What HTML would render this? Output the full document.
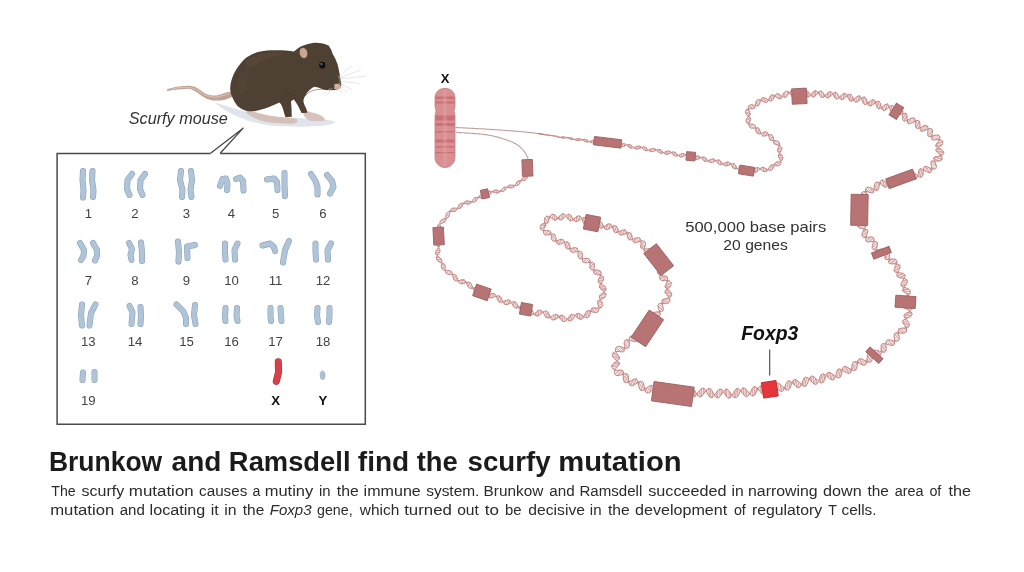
<!DOCTYPE html>
<html><head><meta charset="utf-8"><style>
html,body{margin:0;padding:0;background:#fff;overflow:hidden;}
svg{display:block;font-family:"Liberation Sans",sans-serif;will-change:transform;}
</style></head><body>
<svg width="1024" height="572" viewBox="0 0 1024 572">
<rect width="1024" height="572" fill="#fff"/>
<g id="mouse">
<path d="M214,102 C226,106 250,115 285,117.5 C310,118.5 330,119 335.5,122 C333,126.5 305,127.5 275,126 C250,124 226,113 214,102 Z" fill="#dfe4ec"/>
<path d="M232.0,91.5 231.1,91.7 230.2,91.8 229.2,91.9 228.3,92.1 227.4,92.3 226.4,92.5 225.4,92.8 224.3,93.1 223.2,93.5 222.1,93.9 221.0,94.2 220.0,94.5 219.1,94.8 218.2,95.0 217.4,95.2 216.5,95.4 215.7,95.6 214.7,95.6 213.6,95.6 212.5,95.4 211.3,95.2 210.1,95.0 209.0,94.8 208.0,94.5 207.2,94.3 206.5,94.0 205.9,93.7 205.2,93.4 204.5,93.0 203.7,92.5 202.7,91.8 201.6,91.0 200.4,90.2 199.1,89.3 197.9,88.5 196.7,87.8 195.6,87.3 194.5,86.8 193.4,86.5 192.2,86.2 191.0,86.0 189.7,85.8 188.2,85.7 186.5,85.8 184.7,85.9 182.9,86.1 181.3,86.3 180.0,86.4 179.0,86.5 178.3,86.6 177.7,86.6 177.1,86.7 176.5,86.8 175.6,87.0 174.5,87.2 173.3,87.5 172.0,87.9 170.7,88.2 169.3,88.6 168.0,88.9 Q165.8,90.2 167.5,91.0 168.9,90.8 170.3,90.5 171.7,90.3 173.0,90.1 174.3,89.9 175.6,89.7 176.8,89.6 177.8,89.5 178.8,89.4 179.8,89.3 180.9,89.3 182.0,89.2 183.2,89.1 184.5,89.0 185.9,88.9 187.2,88.8 188.5,88.8 189.7,88.9 190.8,89.2 191.8,89.5 192.8,90.0 193.7,90.5 194.6,91.0 195.5,91.5 196.3,92.0 197.1,92.5 197.9,93.0 198.6,93.5 199.3,94.0 200.0,94.5 200.6,95.0 201.2,95.4 201.8,95.8 202.4,96.3 203.0,96.7 203.7,97.1 204.5,97.5 205.3,98.0 206.2,98.4 207.1,98.9 208.1,99.3 209.0,99.6 209.9,99.9 210.8,100.1 211.7,100.3 212.7,100.4 213.7,100.5 214.7,100.6 215.9,100.6 217.1,100.6 218.4,100.6 219.7,100.5 220.9,100.4 222.0,100.3 222.9,100.2 223.6,100.1 224.3,99.9 225.0,99.8 225.6,99.5 226.4,99.3 227.3,99.0 228.2,98.6 229.1,98.2 230.1,97.8 231.1,97.4 232.0,97.0Z" fill="#c3a294"/><path d="M229.0,93.5 227.8,93.9 226.7,94.3 225.5,94.7 224.4,95.0 223.2,95.4 222.0,95.7 220.8,96.0 219.6,96.3 218.3,96.6 217.1,96.8 215.9,96.9 214.7,97.0 213.5,97.0 212.3,96.9 211.2,96.7 210.0,96.5 209.0,96.2 208.0,96.0 207.2,95.8 206.5,95.6 205.8,95.4 205.2,95.1 204.5,94.7 203.7,94.3 202.7,93.7 201.7,93.0 200.5,92.2 199.4,91.4 198.2,90.6 197.0,90.0 195.8,89.5 194.7,89.0 193.5,88.5 192.3,88.2 191.1,87.8 189.7,87.6 188.2,87.4 186.6,87.4 184.9,87.4 183.2,87.4 181.5,87.5 180.0,87.6 178.6,87.7 177.2,87.9 175.9,88.1 174.6,88.4 173.3,88.6 172.0,88.8" fill="none" stroke="#d6bdb3" stroke-width="1.2" stroke-linecap="round"/>
<path d="M246,109 C256,113 268,116 280,117 L296,118.5 C299,120.5 297.5,123.5 291,123.8 L272,122.8 C260,121.5 250,117 246.5,112.5 Z" fill="#d5c0b9"/>
<path d="M303,110 L316,113.5 C322,115.5 326,118 324.5,121 L311,121 C305.5,119 302.5,115 303,110 Z" fill="#d8c3bc"/>
<path d="M230.2,88.4 C230.5,79 235,69 243.6,60 C250,54 258,51.5 267,50.6 C276,50 288,50.5 294,51.4 C298,48 302,45.5 305,45.1 C309,43.5 312,42.8 314.5,42.7 C319,42.5 323,43.3 326,44.5 L328.6,45.5 C331,49 332,51 332.5,53.7 C335,57 336.5,61.6 337.5,64 C338.9,69.5 340.4,77.4 341.2,83.7 C341.5,85.5 341,86.5 340.4,87 C338,89.5 336,90 333.4,90 C331,90.5 329,90 327,90 C324,89.5 322,89 320.8,88.4 C318,87.5 316,87 314.5,86.8 C312,88 310.5,89 309.7,90 C307.5,92 306,94 305,96.3 C304,98 303.5,100 303.4,101 C303.8,104 305,106 306,108 L307.5,112.8 L301.5,113 C300,109.5 298.5,106.5 297,104 C295.8,102 294.8,100.5 294,99.4 C292.5,100.2 291.5,100.8 291,101.5 L291.5,108 L291.8,116.8 L285.5,117.2 C284.5,114 283.8,112 283.3,110 C282.5,107 281.5,105 280.5,103.5 C280,103.5 279.8,103 279.8,102.5 C277,103.5 274,104.8 272,105.7 C269,107 266.5,108 264,108.8 C261,109.8 258,110.6 254.6,111.2 C251,111.5 248,111.2 245.2,110.4 C241.5,109 239,107.5 237.3,105.7 C235,103 233.5,100 232.6,97.8 C231,94.5 230.3,91.5 230.2,88.4 Z" fill="#4f4034"/>
<path d="M246,60 C255,53 270,51.5 286,53 C278,57 264,58 254,66 C249,70 245,68 246,60 Z" fill="#58483b" opacity="0.7"/>
<path d="M236,80 C240,72 246,68 250,70 C248,78 246,88 244,96 C240,95 236,90 236,80 Z" fill="#55453a" opacity="0.5"/>
<path d="M305,96 C310,90 318,88 330,90" fill="none" stroke="#3e3128" stroke-width="0.8" opacity="0.6"/>
<path d="M280,102 C283,95 287,92 295,96" fill="none" stroke="#3e3128" stroke-width="0.8" opacity="0.6"/>
<ellipse cx="303.5" cy="53" rx="4.3" ry="5.6" transform="rotate(-15 303.5 53)" fill="#c9a592" stroke="#4d3e32" stroke-width="0.8"/>
<ellipse cx="322.3" cy="65.2" rx="3.1" ry="3.4" fill="#111"/>
<circle cx="321.4" cy="64" r="0.75" fill="#ccc"/>
<path d="M334.5,84 C337.5,83 340.8,84.5 341.3,87 C340,89.8 336.5,90.3 334,88.8 Z" fill="#d4a497"/>
<g stroke="#d5d5d5" stroke-width="0.55" fill="none">
<path d="M338,77 L352,65.5"/><path d="M338.5,78 L361,70"/><path d="M339,79 L366,76"/>
<path d="M339,81 L359.5,83.5"/><path d="M338,83 L352,89.7"/><path d="M337,84 L347,92"/>
<path d="M336,85 L342,93"/><path d="M332,88 L326,96"/><path d="M330,88.5 L322,95"/>
</g>
</g>

<text x="128.8" y="124.3" font-size="16" font-style="italic" fill="#333" textLength="99" lengthAdjust="spacingAndGlyphs">Scurfy mouse</text>
<path d="M210.6,153.3 L243.4,127.9 L220.2,153.3" fill="#fff" stroke="#4a4a4a" stroke-width="1.3" stroke-linejoin="miter"/>
<path d="M210.6,153.4 H57.1 V424.3 H365.3 V153.4 H220.2" fill="none" stroke="#4a4a4a" stroke-width="1.5"/>
<g fill="none" stroke-linecap="round" stroke-linejoin="round"><path d="M83,171 L82.5,180 L83.5,190 L83,197.5" stroke="#8aa1b8" stroke-width="6.0"/><path d="M83,171 L82.5,180 L83.5,190 L83,197.5" stroke="#b0c4d8" stroke-width="4.9"/><path d="M92.5,171 L92,180 L93.5,190 L93,197" stroke="#8aa1b8" stroke-width="6.0"/><path d="M92.5,171 L92,180 L93.5,190 L93,197" stroke="#b0c4d8" stroke-width="4.9"/><path d="M132,174 L127.5,180 L127,189 L129.5,195" stroke="#8aa1b8" stroke-width="6.0"/><path d="M132,174 L127.5,180 L127,189 L129.5,195" stroke="#b0c4d8" stroke-width="4.9"/><path d="M145,174 L140.5,180 L140,189 L142.5,195" stroke="#8aa1b8" stroke-width="6.0"/><path d="M145,174 L140.5,180 L140,189 L142.5,195" stroke="#b0c4d8" stroke-width="4.9"/><path d="M181,171 L180,180 L182.5,190 L182,197" stroke="#8aa1b8" stroke-width="6.0"/><path d="M181,171 L180,180 L182.5,190 L182,197" stroke="#b0c4d8" stroke-width="4.9"/><path d="M191,171 L192,180 L190.5,190 L191.5,197" stroke="#8aa1b8" stroke-width="6.0"/><path d="M191,171 L192,180 L190.5,190 L191.5,197" stroke="#b0c4d8" stroke-width="4.9"/><path d="M220,186 L222.5,179 L226,178.5 L227.5,184 L227,190" stroke="#8aa1b8" stroke-width="6.0"/><path d="M220,186 L222.5,179 L226,178.5 L227.5,184 L227,190" stroke="#b0c4d8" stroke-width="4.9"/><path d="M236,179 L240,177.5 L243,181 L243.5,190.5" stroke="#8aa1b8" stroke-width="6.0"/><path d="M236,179 L240,177.5 L243,181 L243.5,190.5" stroke="#b0c4d8" stroke-width="4.9"/><path d="M267,179.5 L274,178.5 L277,182 L277.5,190" stroke="#8aa1b8" stroke-width="6.0"/><path d="M267,179.5 L274,178.5 L277,182 L277.5,190" stroke="#b0c4d8" stroke-width="4.9"/><path d="M284.5,173 L284.5,185 L285,196" stroke="#8aa1b8" stroke-width="6.0"/><path d="M284.5,173 L284.5,185 L285,196" stroke="#b0c4d8" stroke-width="4.9"/><path d="M311,174 L315.5,181 L317.5,187 L317.5,194.5" stroke="#8aa1b8" stroke-width="6.0"/><path d="M311,174 L315.5,181 L317.5,187 L317.5,194.5" stroke="#b0c4d8" stroke-width="4.9"/><path d="M327,175 L332,181 L333.5,187 L330,193.5" stroke="#8aa1b8" stroke-width="6.0"/><path d="M327,175 L332,181 L333.5,187 L330,193.5" stroke="#b0c4d8" stroke-width="4.9"/><path d="M80,243 L84,250 L83.5,256 L81,260" stroke="#8aa1b8" stroke-width="6.0"/><path d="M80,243 L84,250 L83.5,256 L81,260" stroke="#b0c4d8" stroke-width="4.9"/><path d="M93,243 L97,250 L97,256 L95,260.5" stroke="#8aa1b8" stroke-width="6.0"/><path d="M93,243 L97,250 L97,256 L95,260.5" stroke="#b0c4d8" stroke-width="4.9"/><path d="M129,243 L132,249 L130.5,255 L131.5,260" stroke="#8aa1b8" stroke-width="6.0"/><path d="M129,243 L132,249 L130.5,255 L131.5,260" stroke="#b0c4d8" stroke-width="4.9"/><path d="M141,242.5 L142,252 L142,261" stroke="#8aa1b8" stroke-width="6.0"/><path d="M141,242.5 L142,252 L142,261" stroke="#b0c4d8" stroke-width="4.9"/><path d="M178,241.5 L179,252 L178.5,261.5" stroke="#8aa1b8" stroke-width="6.0"/><path d="M178,241.5 L179,252 L178.5,261.5" stroke="#b0c4d8" stroke-width="4.9"/><path d="M187.5,258 L187,246.5 L195,245" stroke="#8aa1b8" stroke-width="6.0"/><path d="M187.5,258 L187,246.5 L195,245" stroke="#b0c4d8" stroke-width="4.9"/><path d="M225,243.5 L225,252 L225.5,259.5" stroke="#8aa1b8" stroke-width="6.0"/><path d="M225,243.5 L225,252 L225.5,259.5" stroke="#b0c4d8" stroke-width="4.9"/><path d="M237.5,243.5 L234.5,250 L235,259.5" stroke="#8aa1b8" stroke-width="6.0"/><path d="M237.5,243.5 L234.5,250 L235,259.5" stroke="#b0c4d8" stroke-width="4.9"/><path d="M262.5,245.5 L270,243.5 L274,247 L275,251" stroke="#8aa1b8" stroke-width="6.0"/><path d="M262.5,245.5 L270,243.5 L274,247 L275,251" stroke="#b0c4d8" stroke-width="4.9"/><path d="M289,241 L285,250 L283,262.5" stroke="#8aa1b8" stroke-width="6.0"/><path d="M289,241 L285,250 L283,262.5" stroke="#b0c4d8" stroke-width="4.9"/><path d="M315.5,243.5 L315.5,252 L316,259.5" stroke="#8aa1b8" stroke-width="6.0"/><path d="M315.5,243.5 L315.5,252 L316,259.5" stroke="#b0c4d8" stroke-width="4.9"/><path d="M331,243.5 L327.5,250 L328,259.5" stroke="#8aa1b8" stroke-width="6.0"/><path d="M331,243.5 L327.5,250 L328,259.5" stroke="#b0c4d8" stroke-width="4.9"/><path d="M82,304.5 L81,315 L82,325.5" stroke="#8aa1b8" stroke-width="6.0"/><path d="M82,304.5 L81,315 L82,325.5" stroke="#b0c4d8" stroke-width="4.9"/><path d="M95.5,304.5 L91,313 L89.5,325.5" stroke="#8aa1b8" stroke-width="6.0"/><path d="M95.5,304.5 L91,313 L89.5,325.5" stroke="#b0c4d8" stroke-width="4.9"/><path d="M129.5,306 L132.5,312 L131.5,324" stroke="#8aa1b8" stroke-width="6.0"/><path d="M129.5,306 L132.5,312 L131.5,324" stroke="#b0c4d8" stroke-width="4.9"/><path d="M140.5,307 L141,316 L140.5,324" stroke="#8aa1b8" stroke-width="6.0"/><path d="M140.5,307 L141,316 L140.5,324" stroke="#b0c4d8" stroke-width="4.9"/><path d="M176.5,304.5 L183.5,311.5 L186,318 L186,324" stroke="#8aa1b8" stroke-width="6.0"/><path d="M176.5,304.5 L183.5,311.5 L186,318 L186,324" stroke="#b0c4d8" stroke-width="4.9"/><path d="M195,305 L194,315 L195.5,324" stroke="#8aa1b8" stroke-width="6.0"/><path d="M195,305 L194,315 L195.5,324" stroke="#b0c4d8" stroke-width="4.9"/><path d="M225.5,308 L225,316 L225.5,321" stroke="#8aa1b8" stroke-width="6.0"/><path d="M225.5,308 L225,316 L225.5,321" stroke="#b0c4d8" stroke-width="4.9"/><path d="M237,308 L236.5,316 L237.5,321" stroke="#8aa1b8" stroke-width="6.0"/><path d="M237,308 L236.5,316 L237.5,321" stroke="#b0c4d8" stroke-width="4.9"/><path d="M270.5,308 L270.5,316 L271,321" stroke="#8aa1b8" stroke-width="6.0"/><path d="M270.5,308 L270.5,316 L271,321" stroke="#b0c4d8" stroke-width="4.9"/><path d="M280.5,308 L281,316 L281.5,321" stroke="#8aa1b8" stroke-width="6.0"/><path d="M280.5,308 L281,316 L281.5,321" stroke="#b0c4d8" stroke-width="4.9"/><path d="M317.5,308 L317,316 L318,322" stroke="#8aa1b8" stroke-width="6.0"/><path d="M317.5,308 L317,316 L318,322" stroke="#b0c4d8" stroke-width="4.9"/><path d="M329.5,308 L329.5,316 L329,322" stroke="#8aa1b8" stroke-width="6.0"/><path d="M329.5,308 L329.5,316 L329,322" stroke="#b0c4d8" stroke-width="4.9"/><path d="M83,372.5 L82.5,380" stroke="#8aa1b8" stroke-width="6.0"/><path d="M83,372.5 L82.5,380" stroke="#b0c4d8" stroke-width="4.9"/><path d="M94.5,372 L94.5,380" stroke="#8aa1b8" stroke-width="6.0"/><path d="M94.5,372 L94.5,380" stroke="#b0c4d8" stroke-width="4.9"/><path d="M278.3,361.8 L278.6,372 L276.3,381.3" stroke="#b8333a" stroke-width="7.1"/><path d="M278.3,361.8 L278.6,372 L276.3,381.3" stroke="#d8414a" stroke-width="6"/></g><ellipse cx="322.6" cy="375.3" rx="2.4" ry="4.2" fill="#a9bfd4" stroke="#8fa6bd" stroke-width="0.6"/>
<text x="88.3" y="217.5" text-anchor="middle" font-size="13.2" fill="#444">1</text><text x="135" y="217.5" text-anchor="middle" font-size="13.2" fill="#444">2</text><text x="186.5" y="217.5" text-anchor="middle" font-size="13.2" fill="#444">3</text><text x="231.5" y="217.5" text-anchor="middle" font-size="13.2" fill="#444">4</text><text x="275.6" y="217.5" text-anchor="middle" font-size="13.2" fill="#444">5</text><text x="323" y="217.5" text-anchor="middle" font-size="13.2" fill="#444">6</text><text x="88.3" y="284.7" text-anchor="middle" font-size="13.2" fill="#444">7</text><text x="135" y="284.7" text-anchor="middle" font-size="13.2" fill="#444">8</text><text x="186.5" y="284.7" text-anchor="middle" font-size="13.2" fill="#444">9</text><text x="231.5" y="284.7" text-anchor="middle" font-size="13.2" fill="#444">10</text><text x="275.6" y="284.7" text-anchor="middle" font-size="13.2" fill="#444">11</text><text x="323" y="284.7" text-anchor="middle" font-size="13.2" fill="#444">12</text><text x="88.3" y="345.6" text-anchor="middle" font-size="13.2" fill="#444">13</text><text x="135" y="345.6" text-anchor="middle" font-size="13.2" fill="#444">14</text><text x="186.5" y="345.6" text-anchor="middle" font-size="13.2" fill="#444">15</text><text x="231.5" y="345.6" text-anchor="middle" font-size="13.2" fill="#444">16</text><text x="275.6" y="345.6" text-anchor="middle" font-size="13.2" fill="#444">17</text><text x="323" y="345.6" text-anchor="middle" font-size="13.2" fill="#444">18</text><text x="88.3" y="405.0" text-anchor="middle" font-size="13.2" fill="#444">19</text><text x="275.6" y="405.0" text-anchor="middle" font-size="13.2" font-weight="bold" fill="#111">X</text><text x="323" y="405.0" text-anchor="middle" font-size="13.2" font-weight="bold" fill="#111">Y</text>
<text x="445.2" y="83.3" text-anchor="middle" font-size="13" font-weight="bold" fill="#111">X</text>
<g fill="none" stroke-linecap="round" stroke-linejoin="round">
<path d="M456.0,127.5 456.8,127.5 457.6,127.6 458.4,127.6 459.2,127.7 460.0,127.7 460.8,127.8 461.6,127.8 462.4,127.8 463.2,127.9 464.0,127.9 464.8,128.0 465.6,128.0 466.4,128.0 467.2,128.1 468.0,128.1 468.8,128.2 469.6,128.2 470.4,128.3 471.2,128.3 472.0,128.3 472.8,128.4 473.6,128.4 474.4,128.5 475.2,128.5 476.0,128.5 476.8,128.6 477.6,128.6 478.4,128.7 479.2,128.7 480.0,128.8 480.8,128.8 481.6,128.8 482.4,128.9 483.2,128.9 484.0,129.0 484.8,129.0 485.6,129.1 486.4,129.1 487.2,129.2 488.0,129.2 488.8,129.3 489.6,129.3 490.3,129.4 491.1,129.4 491.9,129.5 492.7,129.5 493.5,129.6 494.3,129.6 495.1,129.7 495.9,129.7 496.7,129.8 497.5,129.8 498.3,129.9 499.1,130.0 499.9,130.0 500.7,130.1 501.5,130.1 502.3,130.2 503.1,130.2 503.9,130.3 504.7,130.3 505.5,130.4 506.3,130.5 507.1,130.5 507.9,130.6 508.7,130.6 509.5,130.7 510.3,130.8 511.1,130.8 511.9,130.9 512.7,130.9 513.5,131.0 514.3,131.1 515.1,131.1 515.9,131.2 516.7,131.3 517.5,131.3 518.3,131.4 519.1,131.5 519.9,131.5 520.7,131.6 521.5,131.7 522.3,131.8 523.1,131.8 523.9,131.9 524.6,132.0 525.4,132.1 526.2,132.1 527.0,132.2 527.8,132.3 528.6,132.4 529.4,132.5 530.2,132.6 531.0,132.6 531.8,132.7 532.6,132.8 533.4,132.9 534.2,133.0 535.0,133.1 535.8,133.2 536.6,133.3 537.4,133.5 538.2,133.6 538.9,133.7 539.7,133.8 540.5,133.9 541.3,134.0 542.1,134.2 542.9,134.3 543.7,134.4M528.1,161.3 528.1,160.5 528.1,159.7 528.0,158.9 527.8,158.1 527.6,157.4 527.3,156.6 526.9,155.9 526.6,155.2 526.2,154.5 525.8,153.8 525.4,153.1 524.9,152.4 524.5,151.8 524.0,151.2 523.5,150.5 523.0,149.9 522.4,149.3 521.9,148.7 521.3,148.2 520.8,147.6 520.2,147.1 519.6,146.6 518.9,146.0 518.3,145.6 517.7,145.1 517.0,144.6 516.3,144.2 515.6,143.8 514.9,143.4 514.2,143.0 513.5,142.7 512.8,142.3 512.1,142.0 511.3,141.7 510.6,141.4 509.9,141.1 509.1,140.8 508.4,140.5 507.6,140.2 506.8,140.0 506.1,139.7 505.3,139.4 504.6,139.2 503.8,138.9 503.1,138.7 502.3,138.5 501.5,138.2 500.8,138.0 500.0,137.8 499.2,137.6 498.4,137.4 497.7,137.1 496.9,136.9 496.1,136.7 495.4,136.6 494.6,136.4 493.8,136.2 493.0,136.0 492.2,135.8 491.4,135.7 490.7,135.5 489.9,135.4 489.1,135.2 488.3,135.1 487.5,134.9 486.7,134.8 485.9,134.7 485.1,134.6 484.3,134.5 483.6,134.4 482.8,134.3 482.0,134.2 481.2,134.1 480.4,134.0 479.6,133.9 478.8,133.9 478.0,133.8 477.2,133.7 476.4,133.7 475.6,133.6 474.8,133.6 474.0,133.5 473.2,133.4 472.4,133.4 471.6,133.3 470.8,133.3 470.0,133.2 469.2,133.2 468.4,133.1 467.6,133.1 466.8,133.0 466.0,133.0 465.2,132.9 464.4,132.9 463.6,132.8 462.8,132.8 462.0,132.7 461.2,132.7 460.4,132.6 459.6,132.6 458.8,132.5 458.0,132.5 457.2,132.4 456.4,132.3" stroke="#bf9f9b" stroke-width="1.1"/>
<path d="M562.6,138.0L562.7,136.9M563.4,138.1L563.5,136.9M569.9,137.6L569.7,138.9M571.5,138.0L571.3,139.4M572.2,138.3L572.0,139.6M576.0,140.1L576.1,139.1M577.6,140.5L577.8,138.8M578.4,140.5L578.6,138.7M580.0,140.2L580.2,138.9M583.4,139.4L583.2,140.4M585.0,139.4L584.7,141.3M586.5,139.8L586.3,141.9M587.3,140.3L587.1,142.0M591.0,142.5L591.2,140.9M591.8,142.7L592.1,140.6M593.5,142.7L593.7,140.3M595.1,142.1L595.3,140.5M598.4,140.7L598.3,142.2M600.0,140.5L599.9,143.2M600.8,140.7L600.7,143.5M602.4,141.5L602.3,143.6M603.2,142.1L603.1,143.4M606.2,143.8L606.4,141.7M607.0,143.9L607.3,141.4M608.6,143.7L608.9,141.1M609.4,143.5L609.7,141.2M613.7,142.0L613.4,143.8M615.3,142.2L614.8,144.9M616.1,142.6L615.5,145.3M617.5,143.7L617.1,145.6M618.2,144.4L618.0,145.5M620.3,146.1L620.6,144.5M621.8,146.6L622.3,143.9M622.7,146.6L623.1,143.7M624.4,146.1L624.7,143.9M628.7,144.6L628.3,146.6M629.5,144.6L629.0,147.2M631.0,145.2L630.5,148.0M631.7,145.7L631.3,148.2M635.3,148.7L635.6,146.9M636.8,149.1L637.3,146.2M637.7,149.0L638.2,146.1M639.4,148.5L639.7,146.3M640.3,148.1L640.5,146.7M642.9,147.0L642.6,148.6M644.5,147.0L644.0,149.8M646.0,147.7L645.5,150.6M646.7,148.3L646.3,150.7M650.3,151.3L650.6,149.2M651.0,151.6L651.5,148.9M652.7,151.5L653.2,148.5M654.4,150.9L654.7,148.8M655.3,150.5L655.5,149.3M657.9,149.5L657.6,151.2M659.5,149.5L659.0,152.5M660.3,149.8L659.7,153.0M661.7,150.9L661.3,153.3M662.4,151.6L662.1,153.2M665.2,154.0L665.6,151.7M666.0,154.3L666.5,151.4M667.6,154.2L668.2,151.0M668.5,153.9L669.0,151.1M670.3,153.0L670.5,151.9M672.9,152.0L672.5,154.0M674.5,152.1L673.9,155.3M675.2,152.5L674.6,155.7M676.6,153.6L676.2,156.0M677.3,154.4L677.1,155.9M679.4,156.4L679.7,154.8M680.9,157.0L681.5,153.9M681.7,157.0L682.3,153.7M683.5,156.5L683.9,153.7M685.2,155.6L685.4,154.6M687.8,154.5L687.5,156.7M688.6,154.4L688.2,157.3M690.0,154.8L689.9,158.2M690.9,155.3L690.6,158.4M692.3,156.7L692.0,158.2M694.3,158.8L694.7,157.0M695.8,159.4L696.5,156.2M696.7,159.5L697.4,156.0M698.4,159.0L699.0,156.1M699.3,158.5L699.7,156.5M702.0,157.2L701.8,158.5M703.7,157.0L703.1,160.1M705.2,157.6L704.5,161.2M705.9,158.2L705.3,161.4M707.2,159.8L706.9,161.3M709.2,161.9L709.6,160.0M710.0,162.3L710.5,159.5M711.5,162.6L712.3,158.9M713.3,162.0L713.9,159.1M714.2,161.5L714.6,159.5M716.9,160.2L716.6,161.6M718.6,160.0L717.9,163.2M719.4,160.2L718.6,163.9M720.8,161.3L720.1,164.6M721.5,162.1L720.9,164.6M724.0,165.2L724.5,163.2M724.7,165.6L725.4,162.7M726.3,165.9L727.2,162.1M727.1,165.7L728.1,162.1M729.0,165.0L729.6,162.8M730.0,164.5L730.3,163.5M731.9,163.8L731.4,165.2M733.6,163.8L732.5,167.0M734.4,164.1L733.0,167.8M735.6,165.4L734.4,168.7M736.1,166.3L735.2,168.9M739.0,170.3L740.0,167.4M739.7,170.7L740.9,167.1M741.3,170.7L742.7,167.0M743.3,170.0L744.1,167.8M744.3,169.6L744.6,168.5M746.0,168.6L745.8,170.1M746.8,168.3L746.5,171.0M748.2,168.3L748.1,172.3M748.9,168.6L749.0,172.7M750.5,169.6L750.7,172.6M754.7,172.3L754.4,169.1M755.4,172.3L755.2,168.4M757.0,171.7L756.8,167.6M757.7,171.0L757.6,167.6M759.3,169.5L759.2,168.2M761.6,167.6L761.7,170.3M763.0,167.3L763.5,171.4M763.8,167.5L764.4,171.7M765.5,168.4L766.1,171.4M766.4,169.0L766.9,170.9M769.3,170.3L768.7,168.3M771.1,170.2L769.8,166.4M772.5,169.1L770.9,165.2M773.0,168.2L771.6,164.9M773.9,166.2L773.2,164.9M774.9,163.5L776.4,165.7M775.3,162.9L777.5,165.8M776.4,162.3L779.6,165.2M777.1,162.1L780.3,164.5M779.1,161.7L781.0,162.6M782.0,160.0L779.9,159.4M782.8,158.4L778.8,157.6M782.8,157.5L778.5,156.8M782.0,155.6L778.4,155.4M781.3,154.7L778.6,154.8M778.2,152.1L780.9,151.4M777.8,151.5L781.4,150.4M777.7,150.0L781.9,148.5M777.9,149.1L781.7,147.6M778.7,147.1L780.5,146.3M779.6,143.9L777.5,145.0M779.5,143.0L776.4,144.7M778.4,141.6L774.7,144.0M776.5,140.8L773.7,143.0M775.4,140.7L773.5,142.2M772.2,140.7L773.4,139.2M770.7,140.3L773.0,136.9M770.2,139.8L772.6,136.0M769.4,138.1L771.4,134.8M768.8,136.0L769.6,134.6M767.7,133.0L766.4,135.5M767.1,132.3L765.3,135.8M765.4,131.9L763.5,136.1M764.4,132.1L762.7,135.9M762.3,132.9L761.5,134.7M759.2,133.9L760.2,131.7M757.5,133.6L759.5,129.6M756.9,133.0L759.1,128.8M756.0,131.1L757.9,127.9M755.7,129.9L757.2,127.9M755.5,126.6L754.0,128.1M754.9,125.2L751.7,128.1M753.5,124.5L749.9,127.3M752.5,124.3L749.3,126.7M750.2,124.0L749.0,124.8M747.1,123.0L749.9,121.4M746.5,122.3L750.2,120.3M746.1,120.5L750.5,118.6M746.4,119.4L750.4,118.0M747.6,117.3L749.4,117.0M749.1,115.8L747.7,115.7M749.7,115.2L746.8,114.9M750.2,114.0L745.6,112.8M750.1,113.4L745.4,111.8M749.3,111.5L746.2,110.0M748.9,110.4L747.0,109.4M748.3,108.1L749.3,108.8M748.7,106.1L751.7,108.7M749.4,105.4L752.7,108.7M751.3,104.8L754.2,108.3M752.4,104.8L754.7,107.7M757.7,105.9L755.9,102.4M758.4,105.6L756.2,101.4M759.4,104.2L757.4,99.9M760.1,102.0L759.1,99.7M761.5,98.8L762.3,101.1M762.1,98.1L763.4,101.7M763.6,97.6L765.4,102.4M764.6,97.8L766.2,102.4M766.7,98.9L767.5,101.5M769.7,100.7L769.1,98.5M771.3,100.9L770.2,96.3M772.0,100.6L770.8,95.5M773.3,98.9L772.3,94.9M773.8,97.9L773.2,95.0M775.6,94.7L776.1,96.9M776.9,93.7L778.1,98.3M778.6,94.0L780.0,98.8M779.5,94.5L780.8,98.6M781.6,95.9L782.0,97.2M784.5,97.4L783.5,93.8M785.3,97.4L784.1,92.8M786.6,96.4L785.5,91.4M787.8,94.5L787.4,91.3M788.5,93.4L788.3,91.9M790.2,91.6L790.1,93.7M791.1,91.1L790.8,94.7M792.9,91.2L792.1,96.5M793.7,91.8L792.8,97.0M795.0,93.8L794.4,97.0M795.6,94.9L795.3,96.6M796.9,97.0L797.2,95.0M798.7,98.0L798.9,93.2M799.7,97.9L799.5,92.5M801.5,96.5L800.6,91.9M802.1,95.4L801.3,92.0M803.9,91.9L804.3,93.8M805.6,90.8L806.0,95.6M807.4,91.3L807.5,96.8M808.3,92.0L808.3,96.9M809.9,94.1L809.9,96.0M812.2,96.7L812.3,93.1M813.0,97.0L813.1,92.2M814.6,96.5L814.8,90.9M815.4,95.8L815.6,90.8M817.1,93.8L817.2,91.7M818.8,91.9L818.7,93.7M819.6,91.3L819.4,94.8M821.3,91.1L820.9,96.7M822.0,91.6L821.7,97.3M823.5,93.4L823.3,97.3M824.3,94.5L824.1,96.8M825.7,96.7L825.8,95.0M827.2,97.8L827.6,93.0M828.0,97.9L828.5,92.2M829.7,96.9L830.2,91.7M830.5,96.0L831.0,91.9M833.3,93.1L833.1,94.7M835.0,92.2L834.4,97.0M835.8,92.3L835.1,98.0M837.3,93.6L836.6,98.9M838.6,95.8L838.3,98.4M840.6,99.0L841.0,95.7M841.3,99.5L842.0,94.7M842.9,99.4L843.8,93.4M843.8,98.8L844.6,93.3M845.7,96.9L846.1,94.2M847.6,95.0L847.4,96.4M848.6,94.4L848.0,97.6M850.2,94.2L849.3,99.9M851.0,94.6L849.9,100.7M852.3,96.6L851.4,101.1M852.9,97.8L852.3,100.8M854.0,100.3L854.2,99.2M854.6,101.3L855.2,98.2M856.0,102.2L857.3,96.4M857.8,101.5L859.1,95.8M858.7,100.8L859.9,96.1M860.9,98.9L861.1,97.8M861.9,98.0L861.7,99.0M863.8,97.1L862.6,101.7M864.7,97.2L863.1,102.9M866.0,98.5L864.3,104.3M866.9,101.0L866.0,104.3M867.4,102.4L867.0,103.7M868.3,104.8L869.1,102.0M868.9,105.6L870.3,101.1M870.4,106.0L872.3,99.9M871.4,105.6L873.2,99.7M873.5,104.1L874.6,100.6M874.7,103.1L875.2,101.6M876.8,101.6L876.0,104.2M878.6,101.3L876.8,106.9M879.3,101.8L877.3,107.9M880.4,103.7L878.7,108.9M880.8,105.0L879.6,108.7M882.1,109.0L882.8,106.6M883.3,110.4L885.0,104.8M885.1,110.2L886.9,104.0M886.1,109.6L887.7,104.1M888.3,107.7L888.9,105.6M891.5,105.6L890.3,109.6M892.4,105.5L890.7,110.9M893.8,106.6L891.6,112.8M894.3,107.7L892.3,113.2M895.0,110.5L894.0,112.9M895.4,113.2L896.2,111.5M895.6,114.2L897.5,110.8M896.4,115.2L900.2,109.9M897.2,115.2L901.4,110.0M899.5,114.7L902.7,111.1M901.0,114.3L902.9,112.0M903.7,113.5L902.7,114.7M905.6,113.2L902.6,117.6M906.3,113.5L902.7,119.0M906.9,115.3L903.6,120.7M907.0,116.6L904.4,121.1M907.1,119.6L906.5,120.7M907.3,121.0L907.8,120.1M907.9,123.1L910.4,118.6M908.5,123.6L911.7,118.1M910.4,123.6L913.6,117.8M912.9,122.4L914.8,119.0M914.2,121.7L915.1,120.1M916.7,120.5L915.3,123.0M917.8,120.3L915.4,124.5M919.2,121.1L915.8,127.1M919.6,122.0L916.2,127.9M919.9,124.7L917.6,128.5M920.0,129.0L921.3,127.1M920.7,130.8L924.0,125.8M921.4,131.2L925.2,125.5M923.5,131.0L927.0,125.7M924.8,130.5L927.6,126.3M928.9,128.7L927.9,130.1M931.0,128.5L927.7,133.1M932.2,129.8L927.9,135.5M932.4,130.9L928.3,136.2M932.2,133.8L929.9,136.6M932.0,135.3L931.0,136.4M931.6,138.0L933.9,135.6M931.7,138.9L935.4,135.2M932.6,139.9L938.0,135.1M934.8,139.9L939.6,136.2M936.3,139.7L939.9,137.2M940.8,139.9L938.5,141.1M942.6,141.2L936.8,143.6M942.9,142.2L936.1,144.5M942.1,144.5L935.6,145.9M941.1,145.6L936.0,146.4M936.5,148.9L940.5,149.0M936.0,149.6L941.8,149.9M936.1,151.0L943.5,151.8M936.8,151.7L943.8,152.8M938.9,153.6L942.9,154.5M940.1,154.7L941.8,155.1M941.8,157.0L938.9,156.1M942.2,159.0L936.0,156.7M941.7,159.9L934.9,157.0M939.5,160.9L933.7,157.9M938.0,161.1L933.7,158.6M933.5,160.9L935.1,162.0M931.6,161.0L936.1,165.0M931.1,161.5L936.3,166.3M931.0,163.3L935.7,168.4M931.4,166.1L934.0,169.1M931.7,167.6L932.7,169.0M931.7,170.5L929.9,168.0M931.4,171.6L928.5,167.4M930.0,172.6L926.1,166.4M928.9,172.6L925.1,166.3M926.4,171.6L924.0,167.2M922.5,169.3L923.3,170.9M920.6,168.7L923.0,174.0M919.9,168.9L922.7,175.4M919.0,170.5L921.5,177.1M918.6,171.8L920.7,177.3M918.0,174.8L918.7,176.6M916.6,178.4L915.2,173.8M915.1,179.1L913.0,172.2M914.2,178.8L912.1,171.8M912.1,177.3L910.6,172.3M910.9,176.3L910.0,173.1M908.7,174.3L909.1,175.7M907.7,173.6L908.7,177.2M906.0,173.3L907.8,180.0M904.7,174.7L906.6,181.6M904.2,175.9L905.8,181.8M903.3,178.8L904.0,181.1M901.9,182.5L900.6,178.2M901.3,183.2L899.5,177.2M899.5,183.1L897.6,176.0M898.5,182.5L896.7,176.0M896.4,180.6L895.4,177.1M894.2,178.6L894.4,179.6M893.2,177.8L894.0,181.0M891.4,177.4L893.0,183.8M890.7,177.8L892.5,184.9M889.5,179.7L891.1,185.8M889.0,181.1L890.2,185.7M887.1,186.3L886.0,182.4M886.5,187.0L884.9,181.4M885.0,187.1L882.9,180.1M884.0,186.6L881.9,180.0M881.8,184.9L880.5,181.1M880.6,183.9L880.0,182.1M878.3,182.4L879.3,184.9M877.2,182.1L879.0,186.4M875.6,182.5L878.4,189.0M874.6,184.4L877.4,190.4M874.4,185.8L876.6,190.5M874.1,188.8L874.6,189.8M874.0,190.2L873.3,189.1M873.5,192.2L870.7,187.7M873.0,192.7L869.3,187.3M871.4,192.8L867.1,187.3M869.0,192.2L865.8,188.8M867.5,191.8L865.7,190.0M864.6,191.5L866.2,192.8M863.4,191.7L866.7,194.2M861.9,192.9L867.6,196.7M861.8,193.9L867.8,197.7M862.4,196.3L867.4,199.0M863.1,197.6L866.6,199.4M865.6,202.1L861.4,200.4M865.7,202.9L860.0,200.8M864.7,204.1L858.0,201.9M863.7,204.5L857.5,202.7M861.1,205.4L857.8,204.6M859.7,205.9L858.4,205.6M857.3,207.2L860.4,207.7M856.2,208.8L862.5,209.6M856.3,209.7L863.2,210.4M857.5,211.5L863.8,211.9M858.6,212.4L863.5,212.6M862.1,214.8L860.8,214.9M863.6,216.2L858.4,216.6M863.8,217.0L857.4,217.5M863.1,218.5L856.3,219.3M861.3,220.3L856.8,221.0M860.2,221.3L857.6,221.7M858.3,223.3L860.0,223.0M857.7,224.3L861.4,223.5M857.5,226.1L863.8,224.5M858.0,226.9L864.8,225.0M860.0,228.1L865.6,226.2M862.8,228.8L865.1,227.9M866.5,229.5L863.1,231.4M867.2,229.8L862.5,232.7M867.8,231.1L862.0,235.1M867.7,232.1L862.2,236.0M866.9,234.6L863.5,237.2M866.4,236.0L864.6,237.4M865.8,238.6L867.3,237.3M865.9,240.6L870.1,237.0M866.4,241.3L871.4,237.0M868.2,241.9L873.2,237.5M869.4,241.8L873.8,238.2M872.2,241.6L874.0,240.2M876.0,241.7L872.8,244.1M877.3,242.6L872.2,246.7M877.6,243.5L872.1,247.8M877.3,245.7L872.9,249.3M876.9,247.0L873.7,249.7M876.0,251.0L877.4,249.7M876.2,253.1L880.2,249.3M876.8,253.8L881.4,249.2M878.7,254.3L883.2,249.4M881.4,253.9L883.9,250.4M882.7,253.4L884.0,251.3M885.1,252.1L884.3,253.8M886.1,251.7L884.5,255.2M887.8,251.9L885.0,257.8M888.6,252.6L885.3,258.7M889.4,254.9L886.1,259.7M889.3,257.7L887.6,259.6M888.6,261.4L891.5,259.1M888.7,262.2L892.9,259.0M889.7,263.4L895.2,259.3M890.6,263.6L896.1,259.8M893.0,263.8L896.9,261.3M894.5,263.8L896.8,262.3M897.2,264.0L896.0,264.8M899.2,264.7L894.9,267.3M899.8,265.3L894.4,268.5M900.0,267.1L894.1,270.5M899.7,268.2L894.4,271.2M898.6,270.7L895.9,272.2M897.9,272.0L897.0,272.5M897.0,274.3L899.7,272.8M897.0,276.0L902.4,273.3M897.4,276.6L903.5,273.7M899.2,277.5L904.8,274.8M900.4,277.8L905.0,275.6M903.2,278.3L904.5,277.7M906.5,279.5L902.5,281.2M907.2,280.2L901.8,282.3M907.4,281.9L901.0,284.3M906.4,284.0L901.3,285.8M905.6,285.1L901.9,286.4M903.3,288.3L905.3,287.8M902.6,290.0L907.9,288.8M902.6,290.7L909.0,289.4M903.7,291.8L910.3,291.1M905.7,293.1L910.1,293.2M906.8,293.9L909.5,294.1M908.7,295.9L907.3,295.6M909.3,296.9L906.0,296.2M909.7,298.7L903.6,297.3M909.3,299.4L902.7,298.0M907.9,300.5L901.8,299.8M906.8,301.0L901.9,300.9M904.7,302.8L903.4,303.0M903.5,305.3L906.0,304.2M903.4,306.5L907.4,304.4M904.0,308.1L909.8,304.8M904.6,308.4L910.8,305.4M906.5,308.9L911.8,307.4M907.7,309.3L911.7,308.6M911.6,312.7L907.8,312.3M912.0,313.6L906.7,313.0M911.6,315.3L904.8,314.3M911.0,316.1L904.3,314.9M908.8,317.4L904.1,316.4M907.6,317.9L904.6,317.3M904.1,319.5L906.9,320.2M902.8,320.7L908.6,322.4M902.8,322.2L909.4,324.5M903.2,323.1L909.4,325.4M904.6,325.3L908.3,326.9M905.3,326.5L907.2,327.4M906.4,328.9L904.7,328.0M906.6,330.0L903.3,328.1M906.2,331.9L900.7,328.4M904.5,332.9L899.0,328.9M903.3,333.2L898.5,329.3M900.6,333.1L898.2,330.9M899.2,332.9L898.3,332.0M896.8,332.7L898.8,334.7M895.8,332.8L899.1,336.0M894.5,333.6L899.2,338.6M894.2,334.4L899.1,339.6M894.1,336.7L898.0,340.9M894.5,339.4L896.1,341.2M894.6,343.2L892.2,340.5M894.3,344.1L890.9,340.1M893.0,345.2L888.5,339.8M892.1,345.3L887.6,339.9M889.7,345.0L886.4,340.9M887.0,344.2L885.9,342.9M883.5,343.6L886.1,346.9M882.6,343.7L886.2,348.3M881.5,344.9L885.9,350.5M881.2,345.8L885.5,351.4M881.1,348.3L884.1,352.2M881.2,349.7L883.1,352.2M881.2,352.4L880.6,351.6M880.8,354.6L878.0,350.7M880.3,355.3L876.7,350.3M878.8,355.9L874.5,350.1M877.7,355.9L873.7,350.3M875.2,355.1L872.7,351.6M873.9,354.7L872.5,352.6M871.4,353.8L872.3,355.1M869.4,353.5L872.3,358.0M868.6,353.8L872.1,359.3M867.7,355.1L871.4,361.3M867.4,356.1L870.8,361.9M867.1,358.8L869.0,362.2M867.0,360.2L867.9,361.9M866.5,362.8L865.5,360.8M866.2,363.8L864.2,360.2M865.0,365.1L861.9,359.0M863.2,365.1L859.9,358.7M862.1,364.7L859.1,359.0M859.7,363.5L858.0,360.4M858.4,362.9L857.7,361.5M856.1,361.8L857.3,364.2M855.0,361.6L857.2,365.6M853.4,362.0L856.7,368.2M852.5,363.6L855.8,369.9M852.2,364.7L855.1,370.3M851.8,367.5L853.3,370.3M851.6,368.9L852.1,369.8M851.1,371.4L849.7,368.6M850.7,372.3L848.4,367.9M849.3,373.3L846.1,366.8M848.4,373.3L845.1,366.5M846.2,372.5L843.6,366.9M843.8,371.1L842.6,368.5M840.4,369.2L841.8,372.5M839.5,369.0L841.5,373.9M838.0,369.4L840.7,376.3M837.4,370.1L840.1,377.2M836.6,372.2L838.6,377.9M835.9,375.0L836.7,377.3M834.5,378.7L833.3,374.9M833.9,379.4L832.2,374.0M832.3,379.9L830.2,372.7M831.4,379.7L829.3,372.4M829.3,378.4L827.7,372.7M828.2,377.4L827.1,373.4M824.1,374.2L825.1,378.3M823.2,373.9L824.7,379.6M821.6,374.4L823.6,381.8M821.0,375.1L822.9,382.5M819.9,377.3L821.3,382.9M819.5,378.7L820.4,382.6M817.1,383.5L816.3,379.0M816.3,384.1L815.3,378.0M814.6,384.2L813.5,376.5M813.8,383.7L812.7,376.1M811.9,382.0L811.0,376.5M810.9,380.9L810.3,377.2M807.9,378.0L808.5,380.8M806.1,377.2L807.4,383.5M804.6,377.8L806.2,385.5M803.9,378.6L805.5,386.1M802.8,380.9L803.9,386.2M802.2,382.3L803.0,385.8M800.6,386.1L800.0,383.1M799.3,387.5L797.9,381.1M797.7,387.5L796.0,379.7M796.7,387.0L795.1,379.5M794.7,385.3L793.6,380.1M793.7,384.3L793.0,381.0M791.6,382.3L791.8,383.3M790.6,381.5L791.3,384.7M788.8,380.8L790.3,387.4M788.0,381.0L789.7,388.5M786.7,382.4L788.4,389.9M785.6,384.9L786.7,389.9M785.1,386.3L785.8,389.4M784.1,389.0L783.8,387.7M783.5,390.1L782.7,386.6M782.1,391.3L780.6,384.6M781.3,391.5L779.7,383.8M779.5,390.7L777.9,383.2M777.5,388.9L776.4,384.0M776.4,387.8L775.7,384.8M774.3,385.9L774.7,387.3M773.3,385.2L774.2,388.8M771.6,384.6L773.2,391.5M770.9,384.9L772.5,392.6M769.7,386.3L771.0,393.9M769.1,387.4L770.2,394.0M767.9,390.1L768.3,393.0M766.5,392.7L766.4,391.0M765.8,393.7L765.5,389.8M764.3,394.7L763.6,387.6M763.5,394.6L762.8,386.7M761.8,393.5L761.1,385.9M760.9,392.6L760.3,386.1M759.1,390.3L758.8,387.5M757.2,388.1L757.4,389.9M756.3,387.3L756.8,391.2M754.6,386.6L755.5,393.8M753.8,386.9L754.8,394.8M752.4,388.3L753.3,395.8M751.7,389.5L752.5,395.8M750.4,392.2L750.7,394.8M748.4,395.6L747.9,391.5M746.9,396.6L746.1,389.4M746.1,396.5L745.2,388.6M744.3,395.4L743.5,387.9M743.4,394.4L742.8,388.1M741.6,392.1L741.3,389.6M738.9,389.1L739.3,393.3M737.3,388.5L737.9,395.8M736.5,388.8L737.2,396.8M735.0,390.3L735.6,397.7M734.3,391.4L734.8,397.6M732.9,394.0L733.0,396.4M730.6,397.3L730.4,392.9M729.8,397.9L729.6,391.7M728.2,397.9L728.0,389.8M726.5,396.5L726.4,389.1M725.7,395.4L725.6,389.3M724.1,392.9L724.1,390.7M721.8,389.7L721.6,394.2M721.0,389.2L720.8,395.4M719.4,389.2L719.1,397.3M717.8,390.6L717.5,397.9M716.9,391.7L716.7,397.7M715.2,394.1L715.1,396.2M712.6,397.1L712.9,392.5M711.8,397.5L712.2,391.2M710.2,397.3L710.7,389.2M709.4,396.6L710.0,388.7M708.0,394.5L708.4,388.6M706.5,391.9L706.7,390.0M704.3,388.7L704.0,393.4M703.5,388.2L703.2,394.6M701.9,388.3L701.5,396.4M701.1,388.9L700.7,396.8M699.4,390.8L699.1,396.7M697.7,393.3L697.6,395.1M695.3,396.3L695.3,391.4M694.5,396.7L694.5,390.2M693.0,396.5L692.8,388.4M692.2,395.9L691.9,388.0M690.6,393.9L690.2,388.2M689.7,392.7L689.4,388.9M686.1,388.8L686.6,393.7M685.2,388.5L685.9,395.0M683.6,388.9L684.6,397.0M682.9,389.6L683.8,397.5M681.6,391.9L682.2,397.5M680.9,393.2L681.3,396.9M678.0,397.7L677.7,392.6M677.2,398.1L676.9,391.5M675.4,397.9L675.3,389.8M674.5,397.2L674.6,389.3M672.9,395.0L673.2,389.5M672.2,393.7L672.4,390.1M670.2,390.1L669.8,393.3M668.8,388.8L667.9,395.5M667.3,389.0L666.0,396.9M666.4,389.5L665.1,397.2M664.5,391.3L663.5,396.6M663.5,392.4L662.8,395.8M661.4,394.4L661.6,393.4M660.4,395.2L661.1,392.0M658.6,395.9L660.0,389.3M657.1,395.1L658.9,387.4M656.5,394.3L658.2,386.8M655.4,391.8L656.5,386.8M654.9,390.4L655.6,387.3M653.8,387.8L653.6,389.0M653.3,386.7L652.5,390.0M652.0,385.4L650.4,391.9M651.3,385.3L649.3,392.6M649.8,385.9L647.2,393.0M647.6,387.3L645.6,391.9M646.4,388.1L645.2,390.9M644.1,389.7L644.6,388.4M643.0,390.2L644.3,387.0M641.1,390.4L643.7,384.2M640.4,390.0L643.3,383.1M639.3,388.3L642.2,381.6M638.7,385.7L640.6,381.4M638.5,384.3L639.6,381.7M638.0,381.6L637.3,383.0M637.6,380.5L636.1,383.7M636.5,379.1L633.7,385.1M635.7,378.8L632.6,385.6M633.8,379.2L630.7,385.6M632.7,379.8L630.0,385.2M630.2,381.1L629.0,383.4M627.7,382.2L628.6,380.7M626.6,382.5L628.5,379.3M624.8,382.3L628.3,376.6M624.1,381.7L628.1,375.5M623.4,379.7L627.3,374.0M623.3,378.5L626.6,373.7M623.3,375.6L624.7,373.8M623.4,373.0L622.1,374.5M623.3,371.9L620.8,375.0M622.6,370.5L618.1,375.5M622.0,370.2L616.9,375.5M620.1,370.2L615.1,374.5M618.9,370.3L614.5,373.6M616.2,370.2L614.5,371.1M612.6,368.5L616.7,367.5M611.7,366.7L618.5,365.6M611.9,365.7L619.1,364.8M613.1,363.9L619.5,363.4M614.1,362.9L619.2,362.7M616.4,361.3L617.7,361.3M619.1,359.2L614.5,358.8M619.6,358.0L612.8,356.7M619.4,357.4L612.4,355.7M618.3,355.6L612.6,353.8M617.5,354.6L613.2,352.9M615.6,350.9L616.8,351.5M615.7,348.4L619.5,351.6M616.2,347.4L620.7,351.8M618.1,346.4L622.6,351.9M620.5,346.7L623.8,351.2M621.8,347.1L624.2,350.4M625.7,348.3L624.5,346.7M627.7,348.1L624.3,343.9M628.4,347.7L624.3,342.7M629.2,346.2L624.8,340.8M629.3,343.8L626.2,339.8M629.2,342.4L627.1,339.7M629.2,338.4L630.8,340.5M630.0,336.7L633.4,341.4M630.7,336.2L634.6,341.6M632.6,336.0L636.4,341.5M633.7,336.3L637.1,341.0M636.3,337.2L637.8,339.3M638.8,338.0L638.0,336.8M640.0,338.1L638.0,335.4M641.7,337.8L638.0,332.8M642.3,337.2L638.2,331.7M642.9,335.2L639.0,330.2M642.9,333.9L639.7,329.8M642.8,331.2L641.6,329.8M642.7,328.7L644.2,330.4M642.8,327.7L645.5,330.7M643.5,326.3L648.1,331.0M644.2,326.0L649.2,330.8M646.3,325.9L650.7,329.8M647.5,326.0L651.1,328.9M651.6,326.1L650.7,325.4M653.7,325.5L649.8,322.8M654.7,324.1L649.1,320.5M654.8,323.2L649.1,319.6M654.3,321.0L649.8,318.2M653.8,319.7L650.6,317.8M652.3,316.1L654.2,317.1M652.2,314.2L656.8,316.8M653.1,312.9L659.0,316.2M654.0,312.5L659.7,315.7M656.4,312.0L660.3,314.2M657.8,311.9L660.2,313.3M660.4,311.6L659.4,310.9M661.5,311.4L658.8,309.7M662.9,310.6L658.1,307.1M663.2,310.0L658.0,306.0M663.2,308.1L658.5,304.2M662.7,305.6L660.2,303.3M662.5,304.3L661.3,303.2M662.1,301.9L663.9,303.4M662.1,300.9L665.2,303.5M662.4,299.8L667.8,303.1M663.0,299.5L668.9,302.5M664.9,298.9L669.9,300.9M667.4,298.2L669.6,298.9M670.8,296.5L667.4,295.6M671.4,295.8L666.6,294.6M671.7,294.1L665.3,292.8M671.4,293.1L665.0,292.1M669.8,291.2L665.3,290.7M668.8,290.3L665.9,290.1M666.8,288.7L667.8,288.7M665.4,287.5L669.8,286.9M665.1,287.0L670.7,285.8M665.3,285.9L671.2,283.4M665.7,285.1L671.0,282.4M666.7,282.8L669.4,281.0M667.1,281.5L668.3,280.7M667.6,279.1L665.7,280.6M667.4,277.3L663.1,280.6M666.9,276.7L661.9,280.4M665.3,276.1L660.2,279.4M664.1,276.0L659.7,278.6M661.5,275.6L659.8,276.4M658.2,274.0L661.8,273.0M657.6,273.2L662.6,272.0M657.4,271.5L663.7,270.2M658.5,269.6L663.7,268.6M659.3,268.6L663.2,267.9M661.9,265.6L660.3,266.0M662.6,263.7L657.9,264.9M662.5,262.8L656.8,264.4M661.1,261.3L655.4,263.5M658.8,260.4L655.1,262.2M657.4,260.2L655.3,261.4M654.9,260.1L656.1,259.2M653.9,260.0L656.4,257.9M652.6,259.4L656.7,255.4M652.2,258.7L656.6,254.3M652.0,256.8L655.7,252.7M652.1,255.5L654.9,252.4M652.1,250.5L650.1,252.9M651.7,249.7L648.9,253.2M650.5,248.7L646.6,253.4M649.6,248.6L645.7,253.2M647.4,248.8L644.4,251.9M646.1,249.0L644.2,250.9M643.5,249.1L644.3,248.4M641.4,248.2L645.1,245.9M640.8,247.6L645.5,244.7M640.7,246.3L645.3,242.4M640.8,245.4L644.6,241.5M641.0,242.9L642.6,240.8M640.5,239.3L639.0,241.7M640.0,238.4L637.7,242.1M638.6,237.6L635.6,242.7M636.6,237.8L634.0,242.4M635.4,238.2L633.4,241.8M631.9,239.6L632.4,238.7M629.9,239.9L632.0,236.1M629.1,239.7L631.7,235.0M628.0,238.4L630.9,233.2M627.4,236.1L629.4,232.6M627.2,234.9L628.4,232.6M626.7,232.4L626.2,233.4M626.4,231.4L625.0,233.9M625.2,230.1L622.7,234.8M624.4,229.8L621.7,235.1M622.4,230.2L620.1,234.8M621.3,230.6L619.5,234.2M616.9,232.6L618.1,229.9M616.0,232.7L617.7,228.6M614.6,232.1L616.7,226.6M614.1,231.3L616.1,226.0M613.2,229.2L614.4,225.6M612.8,228.0L613.5,225.9M611.8,225.7L611.4,227.1M610.6,224.2L609.3,228.5M609.8,223.9L608.3,229.1M608.0,224.1L606.5,229.6M607.0,224.7L605.7,229.4M605.0,226.1L604.5,228.1M602.0,228.0L602.8,224.8M601.2,228.1L602.3,223.7M599.8,227.6L601.0,221.9M598.6,226.0L599.3,221.3M597.9,224.9L598.4,221.5M595.9,221.8L595.7,223.6M594.5,220.7L593.8,225.3M593.8,220.6L592.9,226.0M592.2,221.2L591.0,226.5M590.3,222.5L589.3,225.6M589.2,223.2L588.7,224.7M587.1,224.3L587.8,222.5M586.1,224.6L587.4,221.2M584.5,224.2L586.5,219.0M583.9,223.6L585.9,218.3M583.0,221.8L584.3,217.6M582.5,220.6L583.5,217.7M580.4,216.5L579.3,220.1M579.6,216.0L578.4,220.8M577.8,216.0L576.7,221.6M576.8,216.5L575.9,221.7M574.9,218.1L574.5,220.9M574.0,218.9L573.8,220.0M572.2,220.4L572.5,217.9M570.5,220.9L571.2,215.9M569.7,220.7L570.5,215.1M568.3,219.4L568.9,214.3M567.6,218.4L568.1,214.4M564.0,214.0L563.7,218.1M563.2,213.8L562.8,218.9M561.5,214.3L561.3,219.9M559.8,215.9L559.8,219.7M559.0,216.9L559.0,219.2M557.5,218.8L557.4,217.5M556.8,219.5L556.6,216.6M555.4,220.2L554.7,215.0M554.6,220.1L553.8,214.5M553.0,219.1L552.0,214.4M551.0,217.6L550.5,215.7M547.7,216.2L549.0,219.1M546.7,216.3L548.8,220.3M545.1,217.5L548.3,222.1M544.7,218.5L547.9,222.7M544.4,220.9L546.8,223.3M544.6,222.2L545.9,223.3M545.3,224.3L543.7,223.4M545.8,225.3L541.3,224.5M545.8,225.4L540.5,225.6M545.2,226.4L540.2,228.1M544.7,227.2L540.6,229.1M543.8,229.5L542.5,230.3M543.6,232.9L546.2,230.6M544.6,234.4L548.4,230.6M545.5,234.8L549.3,230.7M547.7,234.9L550.5,231.5M548.9,234.7L550.8,232.3M552.4,234.0L551.2,235.6M554.1,234.2L551.4,238.1M554.8,234.7L551.7,239.2M555.5,236.3L552.6,240.7M555.9,238.6L554.3,241.2M556.1,239.9L555.3,241.1M556.5,242.2L557.6,240.4M557.0,243.1L558.8,240.0M558.3,244.2L561.0,239.3M559.2,244.3L561.9,239.3M561.3,243.8L563.3,239.9M563.6,242.8L564.2,241.5M566.8,241.9L565.1,245.1M567.7,242.1L565.4,246.3M568.9,243.2L566.1,248.1M569.4,244.1L566.7,248.7M569.9,246.5L568.2,249.0M570.0,247.7L569.2,248.9M570.3,250.0L571.5,248.3M571.0,251.6L573.9,247.8M571.7,252.0L575.0,247.7M573.4,252.3L576.8,248.1M574.6,252.1L577.4,248.7M577.0,251.7L578.0,250.5M580.3,251.5L578.0,254.2M581.8,252.3L578.1,256.5M582.2,253.1L578.4,257.4M582.5,255.2L579.4,258.6M582.4,256.4L580.3,258.8M582.4,260.1L583.6,258.7M583.0,261.8L586.1,258.4M583.5,262.4L587.2,258.3M585.3,262.8L588.9,258.8M587.6,262.7L589.9,260.1M588.8,262.5L590.1,261.1M591.2,262.3L590.1,263.5M592.2,262.4L590.0,264.7M593.7,263.2L589.9,267.1M594.2,264.0L590.1,268.0M594.4,266.1L590.9,269.4M594.1,268.5L592.5,269.9M593.7,271.9L596.1,270.0M593.8,272.7L597.3,270.1M594.7,273.9L599.5,270.6M595.5,274.2L600.3,271.2M597.7,274.7L601.0,272.7M598.9,274.9L601.0,273.7M601.3,275.5L600.3,276.0M603.0,276.6L599.2,278.2M603.5,277.4L598.7,279.2M603.6,279.2L598.2,281.0M603.2,280.2L598.3,281.7M601.9,282.3L599.2,283.0M601.2,283.3L600.1,283.6M599.9,285.1L602.2,284.7M599.4,286.7L604.3,286.0M599.5,287.5L605.1,286.8M600.6,288.8L606.0,288.4M601.4,289.6L605.9,289.3M603.4,291.0L605.0,291.0M605.7,293.6L602.3,293.4M606.0,294.5L601.3,294.1M605.5,296.3L599.8,295.4M604.0,297.8L599.3,296.7M602.9,298.4L599.4,297.5M599.6,299.9L600.8,300.3M598.1,300.8L602.0,302.5M597.7,301.4L602.5,303.6M597.6,302.9L602.6,305.6M598.1,304.9L601.6,307.2M598.5,306.1L600.8,307.7M598.9,309.7L597.2,308.1M598.1,311.5L594.8,307.9M597.4,312.1L593.8,307.9M595.5,312.6L592.3,308.1M594.3,312.4L591.7,308.6M591.9,311.7L591.0,310.1M589.8,310.9L590.5,312.3M588.8,310.7L590.2,313.5M587.3,310.9L589.4,315.8M586.7,311.3L588.8,316.7M585.7,312.9L587.3,317.7M585.2,313.9L586.4,317.7M583.0,318.1L582.5,315.7M582.3,318.8L581.5,315.0M580.7,319.3L579.6,313.8M579.8,319.1L578.8,313.4M578.0,318.1L577.2,313.6M577.0,317.3L576.5,314.0M574.2,315.0L574.5,316.7M572.5,314.3L573.2,318.8M571.0,314.7L571.8,320.4M570.3,315.2L571.1,320.8M568.9,317.0L569.4,320.9M568.2,318.0L568.5,320.5M566.0,320.7L565.9,318.2M564.4,321.5L564.2,316.5M562.6,321.1L562.7,315.4M561.8,320.5L561.9,315.2M560.2,318.8L560.5,315.5M559.5,317.7L559.7,316.1M558.3,315.8L558.0,317.5M557.7,315.1L557.0,318.3M556.4,314.4L555.0,319.5M555.6,314.4L554.0,319.9M553.8,315.1L552.3,319.7M551.7,316.2L550.9,318.5M548.6,317.7L549.5,315.4M547.7,317.9L549.0,314.2M546.2,317.5L548.0,312.3M545.6,316.9L547.3,311.6M544.6,315.2L545.7,311.1M543.5,313.1L543.8,311.6M541.3,310.5L540.9,313.7M540.4,310.2L540.1,314.5M538.7,310.3L538.5,315.7M537.9,310.7L537.7,316.0M536.2,312.2L536.0,315.7M535.4,313.0L535.1,315.1M533.4,314.3L533.6,313.3M531.3,314.8L532.6,311.2M530.4,314.6L532.2,310.2M529.0,313.4L531.3,308.7M528.5,312.5L530.7,308.2M527.8,310.4L529.1,307.9M527.5,309.2L528.0,308.1M526.7,307.2L525.9,308.9M525.6,305.8L523.7,309.7M524.8,305.5L522.7,310.0M523.0,305.4L521.0,310.0M522.0,305.7L520.3,309.7M519.9,306.7L519.2,308.4M516.9,307.9L517.8,305.4M516.1,308.0L517.2,304.4M514.6,307.5L516.1,302.7M513.4,306.1L514.7,301.8M512.8,305.2L513.9,301.7M510.1,300.6L509.0,303.8M509.4,300.2L508.0,304.2M507.9,300.0L506.1,304.7M506.0,300.5L504.5,304.1M505.0,300.9L503.9,303.5M501.8,302.1L502.4,300.7M500.0,302.2L501.6,298.6M499.3,301.9L501.2,297.7M498.1,300.7L500.0,296.3M497.6,299.8L499.3,296.0M496.8,297.7L497.6,295.9M495.4,294.8L494.5,296.9M494.1,293.7L492.4,297.7M493.3,293.5L491.5,297.9M491.4,293.7L489.9,297.8M490.4,294.1L489.2,297.4M486.4,295.8L487.0,294.1M485.5,296.0L486.6,293.0M483.9,295.6L485.5,291.3M483.2,295.0L484.9,290.6M482.1,293.4L483.6,289.9M481.7,292.3L482.8,289.9M480.6,289.3L479.9,290.5M479.6,287.9L477.7,291.1M478.2,287.2L475.8,291.2M477.3,287.1L475.0,291.0M475.2,287.4L473.7,290.0M474.2,287.7L473.3,289.2M471.1,288.3L472.2,286.3M469.6,288.0L471.4,284.3M468.3,286.9L470.3,282.8M467.9,286.1L469.6,282.4M467.0,284.1L467.9,282.2M465.7,281.3L464.9,283.0M465.1,280.6L463.8,283.4M463.8,279.8L461.8,283.8M462.9,279.7L461.0,283.7M461.0,280.0L459.5,283.0M458.9,280.6L458.4,281.5M455.9,280.8L457.4,278.5M455.1,280.6L457.1,277.5M453.8,279.4L456.4,275.8M453.4,278.6L455.8,275.2M452.9,276.6L454.4,274.5M452.3,273.5L451.5,274.4M451.6,271.9L449.3,274.5M451.1,271.3L448.3,274.4M449.6,270.7L446.7,273.7M448.6,270.5L446.1,273.1M446.5,270.4L445.4,271.5M443.5,269.9L445.2,268.4M442.1,268.9L445.1,266.3M441.7,268.2L445.0,265.4M441.3,266.3L444.3,264.1M441.4,265.2L443.7,263.6M441.9,260.5L439.1,261.8M441.4,259.2L437.5,260.6M440.8,258.6L436.9,259.9M439.3,257.5L436.5,258.1M438.5,256.8L436.7,257.2M436.2,254.7L438.1,254.5M435.6,253.1L439.2,252.8M435.6,252.3L439.7,252.0M436.3,250.6L440.0,250.4M437.5,248.9L439.4,248.9M439.4,246.6L437.6,246.5M439.7,245.8L436.9,245.7M439.9,244.4L436.0,243.9M439.8,243.6L435.8,243.0M439.0,241.9L436.1,241.4M436.9,237.5L439.7,237.9M436.9,236.7L440.4,237.2M437.4,235.4L441.3,235.5M437.9,234.6L441.4,234.6M439.1,233.0L440.9,232.9M440.8,230.6L439.0,230.6M441.2,229.3L437.7,228.9M441.2,228.6L437.4,227.9M440.8,227.1L437.6,226.0M440.5,226.2L438.0,225.2M440.2,221.4L442.5,223.0M441.2,220.1L444.3,222.2M441.9,219.6L444.9,221.7M443.7,218.9L445.7,220.3M444.7,218.6L445.9,219.5M447.5,217.8L445.9,216.5M448.7,216.8L446.1,214.5M449.1,216.1L446.3,213.6M449.5,214.5L447.4,212.3M449.8,212.5L449.0,211.5M450.8,209.7L452.0,211.4M451.3,209.0L453.0,211.4M452.8,208.2L454.8,211.2M453.7,208.1L455.5,211.0M455.6,208.2L456.7,209.9M458.6,208.5L457.9,207.3M460.2,208.2L458.8,205.5M460.9,207.8L459.3,204.7M462.0,206.5L460.5,203.6M462.5,205.6L461.3,203.3M465.0,201.6L466.0,203.8M466.5,201.0L467.8,204.1M467.4,200.9L468.6,204.1M469.2,201.2L470.1,203.5M470.2,201.5L470.7,202.9M473.0,202.1L472.4,200.5M474.6,201.9L473.5,199.0M476.0,200.9L474.8,197.8M476.6,200.2L475.5,197.5M477.6,198.5L477.1,197.4M479.0,196.2L480.0,197.9M479.5,195.7L481.0,197.9M480.8,195.0L482.8,197.6M481.7,194.7L483.5,197.2M483.7,194.7L484.5,196.3M486.4,195.3L486.1,194.2M488.0,195.3L487.3,192.7M488.8,195.1L488.0,192.0M490.2,194.2L489.5,191.3M490.8,193.5L490.3,191.2M493.5,190.8L493.8,192.3M494.2,190.4L494.7,192.6M495.7,190.0L496.5,193.1M496.6,190.1L497.3,193.1M498.3,190.6L498.9,192.6M499.3,190.9L499.6,192.1M502.0,191.5L501.4,189.8M503.6,191.2L502.6,188.4M505.0,190.2L503.9,187.4M505.6,189.5L504.7,187.2M508.4,185.8L509.2,187.7M509.1,185.4L510.1,187.9M510.7,185.0L511.9,187.9M512.4,185.2L513.4,187.2M513.4,185.3L514.0,186.6M516.2,185.6L515.5,184.3M517.8,185.1L516.5,182.7M518.5,184.7L517.0,182.0M519.6,183.3L518.3,181.0M520.0,182.4L519.0,180.8M521.7,179.2L522.7,180.6M522.1,178.6L523.7,180.5M523.3,177.8L525.4,180.0M524.1,177.5L526.1,179.4M525.7,176.9L527.1,177.8M528.1,175.2L526.9,174.8M528.8,173.4L526.2,173.1M528.8,172.6L525.9,172.4M528.2,170.9L525.6,170.8M527.8,170.1L525.8,170.0M526.1,165.9L528.4,166.2M526.2,165.1L528.9,165.5M526.8,163.6L529.6,163.9M527.9,162.1L529.5,162.2M529.3,159.6L528.1,159.7" stroke="#c98582" stroke-width="0.7"/>
<path d="M538.2,133.5 539.0,133.6 539.8,133.7 540.5,133.8 541.3,133.9 542.1,134.1 542.9,134.2 543.7,134.4 544.5,134.6 545.3,134.8 546.0,135.0 546.8,135.2 547.6,135.3 548.4,135.5 549.2,135.6 550.0,135.6 550.8,135.7 551.6,135.7 552.4,135.7 553.2,135.7 554.0,135.7 554.8,135.8 555.6,135.9 556.4,136.0 557.2,136.3 557.9,136.5 558.7,136.8 559.5,137.1 560.2,137.4 561.0,137.6 561.8,137.9 562.6,138.0 563.4,138.1 564.2,138.1 565.0,138.0 565.8,137.9 566.6,137.8 567.5,137.7 568.3,137.6 569.1,137.6 569.9,137.6 570.7,137.8 571.5,138.0 572.2,138.3 573.0,138.6 573.7,139.0 574.5,139.4 575.2,139.8 576.0,140.1 576.8,140.4 577.6,140.5 578.4,140.5 579.2,140.4 580.0,140.2 580.9,140.0 581.7,139.8 582.5,139.5 583.4,139.4 584.2,139.3 585.0,139.4 585.8,139.5 586.5,139.8 587.3,140.3 588.0,140.7 588.8,141.2 589.5,141.7 590.3,142.2 591.0,142.5 591.8,142.7 592.6,142.8 593.5,142.7 594.3,142.4 595.1,142.1 596.0,141.7 596.8,141.3 597.6,140.9 598.4,140.7 599.2,140.5 600.0,140.5 600.8,140.7 601.6,141.1 602.4,141.5 603.2,142.1 603.9,142.6 604.7,143.1 605.5,143.5 606.2,143.8 607.0,143.9 607.8,143.9 608.6,143.7 609.4,143.5 610.3,143.1 611.1,142.7 612.0,142.4 612.9,142.1 613.7,142.0 614.6,142.0 615.3,142.2 616.1,142.6 616.8,143.1 617.5,143.7 618.2,144.4 618.9,145.0 619.6,145.6 620.3,146.1 621.1,146.4 621.8,146.6 622.7,146.6 623.5,146.4 624.4,146.1 625.2,145.7 626.1,145.3 627.0,144.9 627.8,144.7 628.7,144.6 629.5,144.6 630.3,144.8 631.0,145.2 631.7,145.7 632.4,146.4 633.1,147.0 633.8,147.7 634.6,148.3 635.3,148.7 636.1,149.0 636.8,149.1 637.7,149.0 638.5,148.8 639.4,148.5 640.3,148.1 641.1,147.7 642.0,147.3 642.9,147.0 643.7,146.9 644.5,147.0 645.3,147.3 646.0,147.7 646.7,148.3 647.4,148.9 648.1,149.6 648.8,150.3 649.5,150.9 650.3,151.3 651.0,151.6 651.8,151.7 652.7,151.5 653.5,151.3 654.4,150.9 655.3,150.5 656.2,150.1 657.0,149.7 657.9,149.5 658.7,149.4 659.5,149.5 660.3,149.8 661.0,150.3 661.7,150.9 662.4,151.6 663.1,152.3 663.8,153.0 664.5,153.6 665.2,154.0 666.0,154.3 666.8,154.3 667.6,154.2 668.5,153.9 669.4,153.5 670.3,153.0 671.1,152.6 672.0,152.2 672.9,152.0 673.7,152.0 674.5,152.1 675.2,152.5 676.0,153.0 676.6,153.6 677.3,154.4 678.0,155.1 678.7,155.8 679.4,156.4 680.2,156.8 680.9,157.0 681.7,157.0 682.6,156.8 683.5,156.5 684.3,156.1 685.2,155.6 686.1,155.1 687.0,154.8 687.8,154.5 688.6,154.4 689.3,154.5 690.0,154.8 690.9,155.3 691.6,155.9 692.3,156.7 693.0,157.5 693.7,158.2 694.3,158.8 695.1,159.2 695.8,159.4 696.7,159.5 697.5,159.3 698.4,159.0 699.3,158.5 700.2,158.0 701.1,157.6 702.0,157.2 702.9,157.0 703.7,157.0 704.5,157.2 705.2,157.6 705.9,158.2 706.6,159.0 707.2,159.8 707.9,160.6 708.5,161.3 709.2,161.9 710.0,162.3 710.7,162.6 711.5,162.6 712.4,162.4 713.3,162.0 714.2,161.5 715.1,161.0 716.0,160.6 716.9,160.2 717.8,160.0 718.6,160.0 719.4,160.2 720.1,160.7 720.8,161.3 721.5,162.1 722.1,162.9 722.7,163.8 723.4,164.5 724.0,165.2 724.7,165.6 725.5,165.9 726.3,165.9 727.1,165.7 728.0,165.4 729.0,165.0 730.0,164.5 730.9,164.1 731.9,163.8 732.8,163.7 733.6,163.8 734.4,164.1 735.0,164.7 735.6,165.4 736.1,166.3 736.6,167.3 737.1,168.2 737.7,169.1 738.3,169.8 739.0,170.3 739.7,170.7 740.5,170.8 741.3,170.7 742.3,170.4 743.3,170.0 744.3,169.6 745.2,169.1 746.0,168.6 746.8,168.3 747.5,168.2 748.2,168.3 748.9,168.6 749.6,169.0 750.5,169.6 751.3,170.3 752.2,170.9 753.0,171.5 753.9,172.0 754.7,172.3 755.4,172.3 756.2,172.1 757.0,171.7 757.7,171.0 758.5,170.3 759.3,169.5 760.0,168.7 760.8,168.1 761.6,167.6 762.3,167.3 763.0,167.3 763.8,167.5 764.6,167.9 765.5,168.4 766.4,169.0 767.4,169.5 768.4,170.0 769.3,170.3 770.2,170.4 771.1,170.2 771.8,169.8 772.5,169.1 773.0,168.2 773.5,167.2 773.9,166.2 774.2,165.1 774.5,164.2 774.9,163.5 775.3,162.9 775.7,162.5 776.4,162.3 777.1,162.1 778.1,161.9 779.1,161.7 780.2,161.2 781.1,160.7 782.0,160.0 782.5,159.2 782.8,158.4 782.8,157.5 782.6,156.6 782.0,155.6 781.3,154.7 780.5,154.0 779.6,153.3 778.8,152.7 778.2,152.1 777.8,151.5 777.6,150.8 777.7,150.0 777.9,149.1 778.3,148.1 778.7,147.1 779.1,146.0 779.5,144.9 779.6,143.9 779.5,143.0 779.1,142.2 778.4,141.6 777.6,141.1 776.5,140.8 775.4,140.7 774.2,140.6 773.1,140.6 772.2,140.7 771.4,140.6 770.7,140.3 770.2,139.8 769.8,139.1 769.4,138.1 769.1,137.1 768.8,136.0 768.5,134.8 768.2,133.8 767.7,133.0 767.1,132.3 766.3,132.0 765.4,131.9 764.4,132.1 763.4,132.4 762.3,132.9 761.3,133.3 760.2,133.7 759.2,133.9 758.3,133.9 757.5,133.6 756.9,133.0 756.3,132.1 756.0,131.1 755.7,129.9 755.6,128.7 755.6,127.6 755.5,126.6 755.3,125.8 754.9,125.2 754.3,124.8 753.5,124.5 752.5,124.3 751.4,124.1 750.2,124.0 749.1,123.8 748.0,123.5 747.1,123.0 746.5,122.3 746.2,121.5 746.1,120.5 746.4,119.4 746.9,118.3 747.6,117.3 748.4,116.5 749.1,115.8 749.7,115.2 750.1,114.6 750.2,114.0 750.1,113.4 749.7,112.5 749.3,111.5 748.9,110.4 748.5,109.2 748.3,108.1 748.4,107.0 748.7,106.1 749.4,105.4 750.2,104.9 751.3,104.8 752.4,104.8 753.6,105.1 754.8,105.4 755.9,105.7 756.9,105.9 757.7,105.9 758.4,105.6 758.9,105.0 759.4,104.2 759.8,103.2 760.1,102.0 760.5,100.8 760.9,99.7 761.5,98.8 762.1,98.1 762.8,97.7 763.6,97.6 764.6,97.8 765.6,98.3 766.7,98.9 767.7,99.6 768.7,100.3 769.7,100.7 770.6,101.0 771.3,100.9 772.0,100.6 772.7,99.9 773.3,98.9 773.8,97.9 774.4,96.7 775.0,95.6 775.6,94.7 776.2,94.1 776.9,93.7 777.7,93.7 778.6,94.0 779.5,94.5 780.6,95.2 781.6,95.9 782.7,96.6 783.6,97.1 784.5,97.4 785.3,97.4 786.0,97.0 786.6,96.4 787.2,95.5 787.8,94.5 788.5,93.4 789.3,92.4 790.2,91.6 791.1,91.1 792.0,91.0 792.9,91.2 793.7,91.8 794.3,92.7 795.0,93.8 795.6,94.9 796.2,96.1 796.9,97.0 797.7,97.7 798.7,98.0 799.7,97.9 800.6,97.4 801.5,96.5 802.1,95.4 802.7,94.1 803.2,93.0 803.9,91.9 804.7,91.2 805.6,90.8 806.6,90.9 807.4,91.3 808.3,92.0 809.1,93.0 809.9,94.1 810.7,95.1 811.4,96.0 812.2,96.7 813.0,97.0 813.8,96.9 814.6,96.5 815.4,95.8 816.2,94.9 817.1,93.8 817.9,92.8 818.8,91.9 819.6,91.3 820.4,91.0 821.3,91.1 822.0,91.6 822.8,92.4 823.5,93.4 824.3,94.5 825.0,95.7 825.7,96.7 826.4,97.4 827.2,97.8 828.0,97.9 828.8,97.6 829.7,96.9 830.5,96.0 831.4,95.0 832.4,94.0 833.3,93.1 834.1,92.5 835.0,92.2 835.8,92.3 836.5,92.7 837.3,93.6 837.9,94.6 838.6,95.8 839.2,97.1 839.9,98.2 840.6,99.0 841.3,99.5 842.1,99.7 842.9,99.4 843.8,98.8 844.8,97.9 845.7,96.9 846.7,95.9 847.6,95.0 848.6,94.4 849.4,94.1 850.2,94.2 851.0,94.6 851.7,95.5 852.3,96.6 852.9,97.8 853.4,99.1 854.0,100.3 854.6,101.3 855.3,101.9 856.0,102.2 856.8,102.0 857.8,101.5 858.7,100.8 859.8,99.9 860.9,98.9 861.9,98.0 862.9,97.4 863.8,97.1 864.7,97.2 865.4,97.7 866.0,98.5 866.5,99.7 866.9,101.0 867.4,102.4 867.8,103.7 868.3,104.8 868.9,105.6 869.6,106.0 870.4,106.0 871.4,105.6 872.4,104.9 873.5,104.1 874.7,103.1 875.8,102.3 876.8,101.6 877.8,101.3 878.6,101.3 879.3,101.8 879.9,102.6 880.4,103.7 880.8,105.0 881.2,106.4 881.6,107.8 882.1,109.0 882.6,109.9 883.3,110.4 884.1,110.5 885.1,110.2 886.1,109.6 887.2,108.7 888.3,107.7 889.4,106.8 890.5,106.0 891.5,105.6 892.4,105.5 893.2,105.8 893.8,106.6 894.3,107.7 894.7,109.0 895.0,110.5 895.2,111.9 895.4,113.2 895.6,114.2 895.9,114.9 896.4,115.2 897.2,115.2 898.2,115.0 899.5,114.7 901.0,114.3 902.4,113.9 903.7,113.5 904.8,113.2 905.6,113.2 906.3,113.5 906.7,114.2 906.9,115.3 907.0,116.6 907.1,118.1 907.1,119.6 907.3,121.0 907.5,122.2 907.9,123.1 908.5,123.6 909.4,123.8 910.4,123.6 911.6,123.1 912.9,122.4 914.2,121.7 915.5,121.0 916.7,120.5 917.8,120.3 918.6,120.5 919.2,121.1 919.6,122.0 919.8,123.2 919.9,124.7 919.9,126.2 920.0,127.7 920.0,129.0 920.3,130.1 920.7,130.8 921.4,131.2 922.3,131.2 923.5,131.0 924.8,130.5 926.2,129.8 927.6,129.2 928.9,128.7 930.1,128.5 931.0,128.5 931.7,129.0 932.2,129.8 932.4,130.9 932.4,132.3 932.2,133.8 932.0,135.3 931.7,136.7 931.6,138.0 931.7,138.9 932.0,139.5 932.6,139.9 933.6,139.9 934.8,139.9 936.3,139.7 937.8,139.6 939.4,139.7 940.8,139.9 941.9,140.4 942.6,141.2 942.9,142.2 942.7,143.3 942.1,144.5 941.1,145.6 939.9,146.6 938.6,147.5 937.5,148.3 936.5,148.9 936.0,149.6 935.9,150.3 936.1,151.0 936.8,151.7 937.8,152.6 938.9,153.6 940.1,154.7 941.1,155.8 941.8,157.0 942.2,158.1 942.2,159.0 941.7,159.9 940.7,160.5 939.5,160.9 938.0,161.1 936.4,161.1 934.9,161.0 933.5,160.9 932.4,160.8 931.6,161.0 931.1,161.5 930.9,162.3 931.0,163.3 931.2,164.6 931.4,166.1 931.7,167.6 931.8,169.1 931.7,170.5 931.4,171.6 930.8,172.3 930.0,172.6 928.9,172.6 927.7,172.2 926.4,171.6 925.1,170.8 923.7,170.0 922.5,169.3 921.5,168.9 920.6,168.7 919.9,168.9 919.4,169.5 919.0,170.5 918.6,171.8 918.3,173.2 918.0,174.8 917.7,176.2 917.2,177.5 916.6,178.4 915.9,179.0 915.1,179.1 914.2,178.8 913.2,178.2 912.1,177.3 910.9,176.3 909.8,175.2 908.7,174.3 907.7,173.6 906.8,173.3 906.0,173.3 905.3,173.8 904.7,174.7 904.2,175.9 903.7,177.3 903.3,178.8 902.9,180.3 902.5,181.6 901.9,182.5 901.3,183.2 900.5,183.3 899.5,183.1 898.5,182.5 897.5,181.7 896.4,180.6 895.2,179.5 894.2,178.6 893.2,177.8 892.2,177.4 891.4,177.4 890.7,177.8 890.0,178.6 889.5,179.7 889.0,181.1 888.6,182.5 888.1,184.0 887.7,185.3 887.1,186.3 886.5,187.0 885.8,187.2 885.0,187.1 884.0,186.6 882.9,185.8 881.8,184.9 880.6,183.9 879.4,183.1 878.3,182.4 877.2,182.1 876.3,182.1 875.6,182.5 875.0,183.3 874.6,184.4 874.4,185.8 874.2,187.3 874.1,188.8 874.0,190.2 873.8,191.4 873.5,192.2 873.0,192.7 872.4,192.9 871.4,192.8 870.3,192.5 869.0,192.2 867.5,191.8 866.0,191.5 864.6,191.5 863.4,191.7 862.5,192.2 861.9,192.9 861.8,193.9 861.9,195.0 862.4,196.3 863.1,197.6 863.9,198.9 864.6,200.1 865.2,201.2 865.6,202.1 865.7,202.9 865.4,203.5 864.7,204.1 863.7,204.5 862.5,205.0 861.1,205.4 859.7,205.9 858.4,206.5 857.3,207.2 856.6,207.9 856.2,208.8 856.3,209.7 856.7,210.6 857.5,211.5 858.6,212.4 859.8,213.3 861.0,214.1 862.1,214.8 863.0,215.5 863.6,216.2 863.8,217.0 863.7,217.7 863.1,218.5 862.3,219.4 861.3,220.3 860.2,221.3 859.2,222.3 858.3,223.3 857.7,224.3 857.4,225.3 857.5,226.1 858.0,226.9 858.9,227.6 860.0,228.1 861.4,228.5 862.8,228.8 864.2,229.0 865.5,229.2 866.5,229.5 867.2,229.8 867.6,230.4 867.8,231.1 867.7,232.1 867.3,233.3 866.9,234.6 866.4,236.0 866.0,237.3 865.8,238.6 865.7,239.7 865.9,240.6 866.4,241.3 867.1,241.7 868.2,241.9 869.4,241.8 870.8,241.7 872.2,241.6 873.6,241.5 874.9,241.5 876.0,241.7 876.8,242.1 877.3,242.6 877.6,243.5 877.5,244.5 877.3,245.7 876.9,247.0 876.5,248.4 876.2,249.7 876.0,251.0 876.0,252.2 876.2,253.1 876.8,253.8 877.6,254.2 878.7,254.3 880.0,254.2 881.4,253.9 882.7,253.4 884.0,252.7 885.1,252.1 886.1,251.7 887.0,251.7 887.8,251.9 888.6,252.6 889.1,253.6 889.4,254.9 889.5,256.3 889.3,257.7 889.1,259.1 888.8,260.3 888.6,261.4 888.7,262.2 889.0,262.9 889.7,263.4 890.6,263.6 891.7,263.8 893.0,263.8 894.5,263.8 895.9,263.9 897.2,264.0 898.3,264.3 899.2,264.7 899.8,265.3 900.0,266.1 900.0,267.1 899.7,268.2 899.2,269.5 898.6,270.7 897.9,272.0 897.4,273.2 897.0,274.3 896.8,275.2 897.0,276.0 897.4,276.6 898.2,277.1 899.2,277.5 900.4,277.8 901.8,278.0 903.2,278.3 904.5,278.6 905.6,279.0 906.5,279.5 907.2,280.2 907.4,281.0 907.4,281.9 907.0,282.9 906.4,284.0 905.6,285.1 904.8,286.3 904.0,287.3 903.3,288.3 902.8,289.2 902.6,290.0 902.6,290.7 903.1,291.3 903.7,291.8 904.7,292.4 905.7,293.1 906.8,293.9 907.9,294.9 908.7,295.9 909.3,296.9 909.7,297.8 909.7,298.7 909.3,299.4 908.7,299.9 907.9,300.5 906.8,301.0 905.7,301.8 904.7,302.8 903.9,304.0 903.5,305.3 903.4,306.5 903.6,307.4 904.0,308.1 904.6,308.4 905.5,308.6 906.5,308.9 907.7,309.3 908.9,310.0 910.1,310.8 911.0,311.8 911.6,312.7 912.0,313.6 912.0,314.5 911.6,315.3 911.0,316.1 910.0,316.7 908.8,317.4 907.6,317.9 906.3,318.4 905.1,319.0 904.1,319.5 903.3,320.0 902.8,320.7 902.7,321.4 902.8,322.2 903.2,323.1 903.8,324.2 904.6,325.3 905.3,326.5 905.9,327.7 906.4,328.9 906.6,330.0 906.6,331.1 906.2,331.9 905.5,332.5 904.5,332.9 903.3,333.2 902.0,333.2 900.6,333.1 899.2,332.9 897.9,332.7 896.8,332.7 895.8,332.8 895.0,333.1 894.5,333.6 894.2,334.4 894.1,335.4 894.1,336.7 894.3,338.0 894.5,339.4 894.6,340.8 894.7,342.1 894.6,343.2 894.3,344.1 893.8,344.8 893.0,345.2 892.1,345.3 891.0,345.3 889.7,345.0 888.4,344.6 887.0,344.2 885.7,343.9 884.5,343.6 883.5,343.6 882.6,343.7 882.0,344.2 881.5,344.9 881.2,345.8 881.1,347.0 881.1,348.3 881.2,349.7 881.2,351.1 881.2,352.4 881.1,353.6 880.8,354.6 880.3,355.3 879.7,355.8 878.8,355.9 877.7,355.9 876.5,355.6 875.2,355.1 873.9,354.7 872.6,354.2 871.4,353.8 870.3,353.6 869.4,353.5 868.6,353.8 868.1,354.3 867.7,355.1 867.4,356.1 867.2,357.4 867.1,358.8 867.0,360.2 866.8,361.6 866.5,362.8 866.2,363.8 865.6,364.6 865.0,365.1 864.2,365.2 863.2,365.1 862.1,364.7 860.9,364.2 859.7,363.5 858.4,362.9 857.2,362.3 856.1,361.8 855.0,361.6 854.1,361.6 853.4,362.0 852.9,362.6 852.5,363.6 852.2,364.7 852.0,366.0 851.8,367.5 851.6,368.9 851.4,370.2 851.1,371.4 850.7,372.3 850.1,373.0 849.3,373.3 848.4,373.3 847.4,373.0 846.2,372.5 845.0,371.9 843.8,371.1 842.6,370.3 841.4,369.7 840.4,369.2 839.5,369.0 838.7,369.0 838.0,369.4 837.4,370.1 837.0,371.0 836.6,372.2 836.2,373.6 835.9,375.0 835.5,376.4 835.0,377.6 834.5,378.7 833.9,379.4 833.1,379.8 832.3,379.9 831.4,379.7 830.4,379.1 829.3,378.4 828.2,377.4 827.1,376.5 826.1,375.5 825.0,374.8 824.1,374.2 823.2,373.9 822.4,374.0 821.6,374.4 821.0,375.1 820.4,376.1 819.9,377.3 819.5,378.7 819.0,380.1 818.4,381.4 817.8,382.6 817.1,383.5 816.3,384.1 815.5,384.3 814.6,384.2 813.8,383.7 812.9,383.0 811.9,382.0 810.9,380.9 809.9,379.8 808.9,378.8 807.9,378.0 807.0,377.5 806.1,377.2 805.3,377.3 804.6,377.8 803.9,378.6 803.3,379.6 802.8,380.9 802.2,382.3 801.7,383.7 801.2,385.0 800.6,386.1 800.0,386.9 799.3,387.5 798.5,387.7 797.7,387.5 796.7,387.0 795.7,386.3 794.7,385.3 793.7,384.3 792.6,383.2 791.6,382.3 790.6,381.5 789.7,381.0 788.8,380.8 788.0,381.0 787.3,381.6 786.7,382.4 786.1,383.6 785.6,384.9 785.1,386.3 784.6,387.7 784.1,389.0 783.5,390.1 782.8,390.9 782.1,391.3 781.3,391.5 780.5,391.2 779.5,390.7 778.5,389.9 777.5,388.9 776.4,387.8 775.4,386.8 774.3,385.9 773.3,385.2 772.4,384.7 771.6,384.6 770.9,384.9 770.3,385.4 769.7,386.3 769.1,387.4 768.5,388.8 767.9,390.1 767.2,391.5 766.5,392.7 765.8,393.7 765.1,394.3 764.3,394.7 763.5,394.6 762.7,394.2 761.8,393.5 760.9,392.6 760.0,391.4 759.1,390.3 758.1,389.1 757.2,388.1 756.3,387.3 755.4,386.8 754.6,386.6 753.8,386.9 753.1,387.4 752.4,388.3 751.7,389.5 751.1,390.8 750.4,392.2 749.8,393.5 749.1,394.7 748.4,395.6 747.7,396.3 746.9,396.6 746.1,396.5 745.2,396.1 744.3,395.4 743.4,394.4 742.5,393.3 741.6,392.1 740.7,390.9 739.8,389.9 738.9,389.1 738.1,388.7 737.3,388.5 736.5,388.8 735.7,389.4 735.0,390.3 734.3,391.4 733.6,392.7 732.9,394.0 732.2,395.3 731.4,396.4 730.6,397.3 729.8,397.9 729.0,398.1 728.2,397.9 727.3,397.4 726.5,396.5 725.7,395.4 724.9,394.2 724.1,392.9 723.3,391.7 722.5,390.6 721.8,389.7 721.0,389.2 720.2,389.0 719.4,389.2 718.6,389.8 717.8,390.6 716.9,391.7 716.1,392.9 715.2,394.1 714.4,395.3 713.5,396.3 712.6,397.1 711.8,397.5 711.0,397.6 710.2,397.3 709.4,396.6 708.7,395.7 708.0,394.5 707.3,393.2 706.5,391.9 705.8,390.6 705.1,389.6 704.3,388.7 703.5,388.2 702.7,388.1 701.9,388.3 701.1,388.9 700.2,389.7 699.4,390.8 698.5,392.0 697.7,393.3 696.8,394.5 696.0,395.5 695.3,396.3 694.5,396.7 693.8,396.8 693.0,396.5 692.2,395.9 691.4,395.0 690.6,393.9 689.7,392.7 688.8,391.5 687.9,390.4 687.0,389.4 686.1,388.8 685.2,388.5 684.4,388.5 683.6,388.9 682.9,389.6 682.2,390.6 681.6,391.9 680.9,393.2 680.3,394.6 679.6,395.8 678.8,396.9 678.0,397.7 677.2,398.1 676.3,398.2 675.4,397.9 674.5,397.2 673.7,396.2 672.9,395.0 672.2,393.7 671.5,392.4 670.8,391.1 670.2,390.1 669.5,389.3 668.8,388.8 668.1,388.7 667.3,389.0 666.4,389.5 665.5,390.3 664.5,391.3 663.5,392.4 662.4,393.5 661.4,394.4 660.4,395.2 659.5,395.7 658.6,395.9 657.8,395.7 657.1,395.1 656.5,394.3 655.9,393.1 655.4,391.8 654.9,390.4 654.4,389.1 653.8,387.8 653.3,386.7 652.7,385.9 652.0,385.4 651.3,385.3 650.6,385.5 649.8,385.9 648.8,386.6 647.6,387.3 646.4,388.1 645.2,388.9 644.1,389.7 643.0,390.2 642.0,390.5 641.1,390.4 640.4,390.0 639.8,389.3 639.3,388.3 639.0,387.1 638.7,385.7 638.5,384.3 638.2,382.9 638.0,381.6 637.6,380.5 637.1,379.6 636.5,379.1 635.7,378.8 634.9,378.9 633.8,379.2 632.7,379.8 631.5,380.4 630.2,381.1 628.9,381.7 627.7,382.2 626.6,382.5 625.6,382.5 624.8,382.3 624.1,381.7 623.7,380.8 623.4,379.7 623.3,378.5 623.3,377.0 623.3,375.6 623.4,374.2 623.4,373.0 623.3,371.9 623.0,371.0 622.6,370.5 622.0,370.2 621.2,370.1 620.1,370.2 618.9,370.3 617.6,370.3 616.2,370.2 614.8,369.9 613.5,369.2 612.6,368.5 612.0,367.6 611.7,366.7 611.9,365.7 612.3,364.8 613.1,363.9 614.1,362.9 615.2,362.1 616.4,361.3 617.4,360.6 618.4,359.9 619.1,359.2 619.5,358.7 619.6,358.0 619.4,357.4 619.0,356.5 618.3,355.6 617.5,354.6 616.8,353.4 616.1,352.2 615.6,350.9 615.5,349.6 615.7,348.4 616.2,347.4 617.1,346.8 618.1,346.4 619.2,346.4 620.5,346.7 621.8,347.1 623.1,347.6 624.4,348.0 625.7,348.3 626.8,348.3 627.7,348.1 628.4,347.7 628.9,347.1 629.2,346.2 629.3,345.0 629.3,343.8 629.2,342.4 629.2,341.0 629.1,339.7 629.2,338.4 629.5,337.4 630.0,336.7 630.7,336.2 631.5,336.0 632.6,336.0 633.7,336.3 635.0,336.7 636.3,337.2 637.6,337.6 638.8,338.0 640.0,338.1 640.9,338.1 641.7,337.8 642.3,337.2 642.7,336.3 642.9,335.2 642.9,333.9 642.9,332.6 642.8,331.2 642.7,329.9 642.7,328.7 642.8,327.7 643.1,326.9 643.5,326.3 644.2,326.0 645.2,325.9 646.3,325.9 647.5,326.0 648.9,326.1 650.3,326.1 651.6,326.1 652.7,325.9 653.7,325.5 654.3,324.9 654.7,324.1 654.8,323.2 654.6,322.1 654.3,321.0 653.8,319.7 653.2,318.4 652.7,317.2 652.3,316.1 652.1,315.0 652.2,314.2 652.5,313.4 653.1,312.9 654.0,312.5 655.2,312.2 656.4,312.0 657.8,311.9 659.2,311.7 660.4,311.6 661.5,311.4 662.3,311.1 662.9,310.6 663.2,310.0 663.3,309.1 663.2,308.1 663.0,306.9 662.7,305.6 662.5,304.3 662.3,303.0 662.1,301.9 662.1,300.9 662.2,300.3 662.4,299.8 663.0,299.5 663.8,299.2 664.9,298.9 666.1,298.5 667.4,298.2 668.7,297.7 669.8,297.2 670.8,296.5 671.4,295.8 671.7,295.0 671.7,294.1 671.4,293.1 670.7,292.1 669.8,291.2 668.8,290.3 667.8,289.4 666.8,288.7 666.0,288.0 665.4,287.5 665.1,287.0 665.0,286.5 665.3,285.9 665.7,285.1 666.2,284.0 666.7,282.8 667.1,281.5 667.4,280.3 667.6,279.1 667.6,278.1 667.4,277.3 666.9,276.7 666.2,276.3 665.3,276.1 664.1,276.0 662.9,275.8 661.5,275.6 660.2,275.2 659.1,274.7 658.2,274.0 657.6,273.2 657.3,272.4 657.4,271.5 657.8,270.5 658.5,269.6 659.3,268.6 660.3,267.6 661.1,266.6 661.9,265.6 662.4,264.6 662.6,263.7 662.5,262.8 662.0,262.0 661.1,261.3 660.0,260.7 658.8,260.4 657.4,260.2 656.1,260.1 654.9,260.1 653.9,260.0 653.1,259.8 652.6,259.4 652.2,258.7 652.0,257.9 652.0,256.8 652.1,255.5 652.2,254.2 652.2,252.9 652.2,251.6 652.1,250.5 651.7,249.7 651.2,249.0 650.5,248.7 649.6,248.6 648.6,248.6 647.4,248.8 646.1,249.0 644.7,249.1 643.5,249.1 642.3,248.8 641.4,248.2 640.8,247.6 640.6,247.0 640.7,246.3 640.8,245.4 641.0,244.2 641.0,242.9 641.0,241.6 640.8,240.4 640.5,239.3 640.0,238.4 639.4,237.8 638.6,237.6 637.7,237.5 636.6,237.8 635.4,238.2 634.2,238.7 633.0,239.2 631.9,239.6 630.8,239.9 629.9,239.9 629.1,239.7 628.5,239.2 628.0,238.4 627.7,237.3 627.4,236.1 627.2,234.9 627.0,233.6 626.7,232.4 626.4,231.4 625.9,230.6 625.2,230.1 624.4,229.8 623.5,229.9 622.4,230.2 621.3,230.6 620.1,231.2 618.9,231.8 617.9,232.3 616.9,232.6 616.0,232.7 615.2,232.6 614.6,232.1 614.1,231.3 613.6,230.4 613.2,229.2 612.8,228.0 612.3,226.8 611.8,225.7 611.2,224.8 610.6,224.2 609.8,223.9 609.0,223.8 608.0,224.1 607.0,224.7 606.0,225.4 605.0,226.1 604.0,226.9 603.0,227.5 602.0,228.0 601.2,228.1 600.4,228.0 599.8,227.6 599.2,226.9 598.6,226.0 597.9,224.9 597.3,223.8 596.6,222.8 595.9,221.8 595.2,221.1 594.5,220.7 593.8,220.6 593.0,220.7 592.2,221.2 591.3,221.8 590.3,222.5 589.2,223.2 588.1,223.8 587.1,224.3 586.1,224.6 585.2,224.5 584.5,224.2 583.9,223.6 583.4,222.8 583.0,221.8 582.5,220.6 582.1,219.4 581.6,218.3 581.1,217.2 580.4,216.5 579.6,216.0 578.7,215.9 577.8,216.0 576.8,216.5 575.9,217.2 574.9,218.1 574.0,218.9 573.1,219.7 572.2,220.4 571.3,220.8 570.5,220.9 569.7,220.7 569.0,220.1 568.3,219.4 567.6,218.4 566.9,217.3 566.3,216.3 565.5,215.3 564.8,214.5 564.0,214.0 563.2,213.8 562.3,213.9 561.5,214.3 560.6,215.0 559.8,215.9 559.0,216.9 558.2,217.9 557.5,218.8 556.8,219.5 556.1,220.0 555.4,220.2 554.6,220.1 553.8,219.7 553.0,219.1 552.0,218.4 551.0,217.6 549.9,216.9 548.8,216.4 547.7,216.2 546.7,216.3 545.8,216.7 545.1,217.5 544.7,218.5 544.5,219.7 544.4,220.9 544.6,222.2 544.9,223.3 545.3,224.3 545.6,224.9 545.8,225.3 545.8,225.4 545.6,225.8 545.2,226.4 544.7,227.2 544.2,228.3 543.8,229.5 543.5,230.7 543.4,231.9 543.6,232.9 543.9,233.8 544.6,234.4 545.5,234.8 546.5,235.0 547.7,234.9 548.9,234.7 550.1,234.4 551.3,234.2 552.4,234.0 553.3,234.0 554.1,234.2 554.8,234.7 555.2,235.4 555.5,236.3 555.8,237.4 555.9,238.6 556.1,239.9 556.2,241.1 556.5,242.2 557.0,243.1 557.6,243.8 558.3,244.2 559.2,244.3 560.2,244.1 561.3,243.8 562.5,243.3 563.6,242.8 564.7,242.3 565.8,242.0 566.8,241.9 567.7,242.1 568.4,242.5 568.9,243.2 569.4,244.1 569.7,245.2 569.9,246.5 570.0,247.7 570.1,248.9 570.3,250.0 570.6,250.9 571.0,251.6 571.7,252.0 572.5,252.3 573.4,252.3 574.6,252.1 575.8,251.9 577.0,251.7 578.2,251.5 579.4,251.4 580.3,251.5 581.2,251.8 581.8,252.3 582.2,253.1 582.4,254.1 582.5,255.2 582.4,256.4 582.4,257.7 582.3,258.9 582.4,260.1 582.6,261.0 583.0,261.8 583.5,262.4 584.3,262.7 585.3,262.8 586.4,262.8 587.6,262.7 588.8,262.5 590.1,262.3 591.2,262.3 592.2,262.4 593.1,262.7 593.7,263.2 594.2,264.0 594.4,264.9 594.4,266.1 594.3,267.3 594.1,268.5 593.9,269.7 593.7,270.9 593.7,271.9 593.8,272.7 594.1,273.4 594.7,273.9 595.5,274.2 596.5,274.5 597.7,274.7 598.9,274.9 600.1,275.2 601.3,275.5 602.3,276.0 603.0,276.6 603.5,277.4 603.7,278.3 603.6,279.2 603.2,280.2 602.7,281.3 601.9,282.3 601.2,283.3 600.5,284.2 599.9,285.1 599.5,286.0 599.4,286.7 599.5,287.5 599.9,288.2 600.6,288.8 601.4,289.6 602.4,290.3 603.4,291.0 604.3,291.9 605.1,292.7 605.7,293.6 606.0,294.5 605.9,295.4 605.5,296.3 604.9,297.1 604.0,297.8 602.9,298.4 601.8,298.9 600.7,299.4 599.6,299.9 598.8,300.3 598.1,300.8 597.7,301.4 597.5,302.1 597.6,302.9 597.8,303.8 598.1,304.9 598.5,306.1 598.8,307.3 598.9,308.5 598.9,309.7 598.6,310.7 598.1,311.5 597.4,312.1 596.5,312.5 595.5,312.6 594.3,312.4 593.1,312.1 591.9,311.7 590.8,311.3 589.8,310.9 588.8,310.7 588.0,310.7 587.3,310.9 586.7,311.3 586.2,312.0 585.7,312.9 585.2,313.9 584.7,315.0 584.2,316.2 583.6,317.2 583.0,318.1 582.3,318.8 581.5,319.2 580.7,319.3 579.8,319.1 578.9,318.7 578.0,318.1 577.0,317.3 576.1,316.5 575.2,315.7 574.2,315.0 573.4,314.6 572.5,314.3 571.7,314.4 571.0,314.7 570.3,315.2 569.6,316.0 568.9,317.0 568.2,318.0 567.5,319.0 566.8,320.0 566.0,320.7 565.2,321.3 564.4,321.5 563.5,321.5 562.6,321.1 561.8,320.5 561.0,319.7 560.2,318.8 559.5,317.7 558.9,316.7 558.3,315.8 557.7,315.1 557.1,314.6 556.4,314.4 555.6,314.4 554.7,314.6 553.8,315.1 552.8,315.6 551.7,316.2 550.7,316.8 549.6,317.4 548.6,317.7 547.7,317.9 546.9,317.8 546.2,317.5 545.6,316.9 545.1,316.1 544.6,315.2 544.0,314.1 543.5,313.1 542.8,312.1 542.1,311.2 541.3,310.5 540.4,310.2 539.5,310.1 538.7,310.3 537.9,310.7 537.0,311.4 536.2,312.2 535.4,313.0 534.4,313.7 533.4,314.3 532.4,314.7 531.3,314.8 530.4,314.6 529.6,314.1 529.0,313.4 528.5,312.5 528.1,311.5 527.8,310.4 527.5,309.2 527.1,308.1 526.7,307.2 526.2,306.4 525.6,305.8 524.8,305.5 524.0,305.3 523.0,305.4 522.0,305.7 520.9,306.2 519.9,306.7 518.8,307.2 517.9,307.6 516.9,307.9 516.1,308.0 515.3,307.9 514.6,307.5 513.9,306.9 513.4,306.1 512.8,305.2 512.3,304.2 511.8,303.1 511.2,302.1 510.7,301.3 510.1,300.6 509.4,300.2 508.7,300.0 507.9,300.0 507.0,300.2 506.0,300.5 505.0,300.9 503.9,301.4 502.8,301.8 501.8,302.1 500.9,302.2 500.0,302.2 499.3,301.9 498.6,301.4 498.1,300.7 497.6,299.8 497.2,298.8 496.8,297.7 496.4,296.6 495.9,295.6 495.4,294.8 494.8,294.1 494.1,293.7 493.3,293.5 492.4,293.5 491.4,293.7 490.4,294.1 489.4,294.6 488.4,295.1 487.4,295.5 486.4,295.8 485.5,296.0 484.7,295.9 483.9,295.6 483.2,295.0 482.6,294.3 482.1,293.4 481.7,292.3 481.3,291.3 480.9,290.2 480.6,289.3 480.1,288.5 479.6,287.9 479.0,287.4 478.2,287.2 477.3,287.1 476.3,287.2 475.2,287.4 474.2,287.7 473.1,288.0 472.1,288.2 471.1,288.3 470.3,288.2 469.6,288.0 468.9,287.6 468.3,286.9 467.9,286.1 467.4,285.1 467.0,284.1 466.6,283.1 466.2,282.1 465.7,281.3 465.1,280.6 464.5,280.1 463.8,279.8 462.9,279.7 462.0,279.8 461.0,280.0 460.0,280.3 458.9,280.6 457.9,280.8 456.9,280.9 455.9,280.8 455.1,280.6 454.4,280.1 453.8,279.4 453.4,278.6 453.1,277.6 452.9,276.6 452.7,275.5 452.5,274.4 452.3,273.5 452.0,272.6 451.6,271.9 451.1,271.3 450.4,270.9 449.6,270.7 448.6,270.5 447.6,270.5 446.5,270.4 445.4,270.3 444.4,270.1 443.5,269.9 442.8,269.5 442.1,268.9 441.7,268.2 441.4,267.3 441.3,266.3 441.4,265.2 441.5,264.2 441.7,263.1 441.8,262.1 441.9,261.3 441.9,260.5 441.7,259.8 441.4,259.2 440.8,258.6 440.1,258.0 439.3,257.5 438.5,256.8 437.6,256.2 436.9,255.5 436.2,254.7 435.8,253.9 435.6,253.1 435.6,252.3 435.8,251.4 436.3,250.6 436.9,249.7 437.5,248.9 438.2,248.1 438.8,247.3 439.4,246.6 439.7,245.8 439.9,245.1 439.9,244.4 439.8,243.6 439.4,242.8 439.0,241.9 438.4,241.0 437.9,240.1 437.5,239.2 437.1,238.3 436.9,237.5 436.9,236.7 437.1,236.0 437.4,235.4 437.9,234.6 438.5,233.9 439.1,233.0 439.7,232.2 440.3,231.4 440.8,230.6 441.1,229.9 441.2,229.3 441.2,228.6 441.1,227.9 440.8,227.1 440.5,226.2 440.2,225.2 440.0,224.2 439.9,223.2 440.0,222.2 440.2,221.4 440.6,220.6 441.2,220.1 441.9,219.6 442.7,219.2 443.7,218.9 444.7,218.6 445.7,218.4 446.6,218.1 447.5,217.8 448.1,217.3 448.7,216.8 449.1,216.1 449.3,215.4 449.5,214.5 449.7,213.5 449.8,212.5 450.0,211.5 450.3,210.5 450.8,209.7 451.3,209.0 452.0,208.5 452.8,208.2 453.7,208.1 454.6,208.1 455.6,208.2 456.6,208.3 457.6,208.4 458.6,208.5 459.4,208.4 460.2,208.2 460.9,207.8 461.5,207.2 462.0,206.5 462.5,205.6 462.9,204.7 463.3,203.8 463.8,203.0 464.4,202.2 465.0,201.6 465.7,201.2 466.5,201.0 467.4,200.9 468.3,201.0 469.2,201.2 470.2,201.5 471.2,201.8 472.1,202.0 473.0,202.1 473.8,202.1 474.6,201.9 475.3,201.5 476.0,200.9 476.6,200.2 477.1,199.4 477.6,198.5 478.1,197.7 478.6,196.9 479.0,196.2 479.5,195.7 480.1,195.3 480.8,195.0 481.7,194.7 482.7,194.6 483.7,194.7 484.6,194.9 485.6,195.1 486.4,195.3 487.2,195.4 488.0,195.3 488.8,195.1 489.5,194.7 490.2,194.2 490.8,193.5 491.5,192.8 492.1,192.1 492.8,191.4 493.5,190.8 494.2,190.4 495.0,190.1 495.7,190.0 496.6,190.1 497.4,190.3 498.3,190.6 499.3,190.9 500.2,191.2 501.1,191.4 502.0,191.5 502.8,191.4 503.6,191.2 504.3,190.8 505.0,190.2 505.6,189.5 506.1,188.7 506.7,187.9 507.2,187.1 507.8,186.4 508.4,185.8 509.1,185.4 509.8,185.1 510.7,185.0 511.5,185.1 512.4,185.2 513.4,185.3 514.4,185.5 515.3,185.6 516.2,185.6 517.0,185.4 517.8,185.1 518.5,184.7 519.1,184.0 519.6,183.3 520.0,182.4 520.4,181.6 520.8,180.7 521.2,179.9 521.7,179.2 522.1,178.6 522.7,178.1 523.3,177.8 524.1,177.5 524.9,177.2 525.7,176.9 526.6,176.5 527.4,175.9 528.1,175.2 528.5,174.3 528.8,173.4 528.8,172.6 528.6,171.7 528.2,170.9 527.8,170.1 527.3,169.3 526.8,168.4 526.4,167.6 526.2,166.7 526.1,165.9 526.2,165.1 526.4,164.3 526.8,163.6 527.3,162.8 527.9,162.1 528.4,161.3 528.9,160.5 529.3,159.6" stroke="#bd7d7a" stroke-width="0.9"/>
<path d="M538.2,133.6 538.9,133.7 539.7,133.8 540.5,134.0 541.3,134.2 542.1,134.3 542.9,134.4 543.7,134.6 544.5,134.7 545.3,134.7 546.1,134.8 546.9,134.8 547.7,134.9 548.5,134.9 549.3,135.0 550.1,135.1 550.8,135.3 551.6,135.4 552.4,135.7 553.2,135.9 553.9,136.2 554.7,136.4 555.5,136.7 556.3,136.9 557.0,137.1 557.8,137.2 558.6,137.2 559.4,137.2 560.3,137.2 561.1,137.1 561.9,137.0 562.7,136.9 563.5,136.9 564.3,137.0 565.1,137.1 565.9,137.2 566.7,137.5 567.4,137.8 568.2,138.2 569.0,138.5 569.7,138.9 570.5,139.2 571.3,139.4 572.0,139.6 572.8,139.6 573.7,139.6 574.5,139.5 575.3,139.3 576.1,139.1 577.0,138.9 577.8,138.8 578.6,138.7 579.4,138.7 580.2,138.9 581.0,139.1 581.7,139.5 582.5,139.9 583.2,140.4 584.0,140.9 584.7,141.3 585.5,141.6 586.3,141.9 587.1,142.0 587.9,142.0 588.7,141.8 589.5,141.6 590.4,141.2 591.2,140.9 592.1,140.6 592.9,140.4 593.7,140.3 594.5,140.3 595.3,140.5 596.0,140.8 596.8,141.2 597.6,141.7 598.3,142.2 599.1,142.7 599.9,143.2 600.7,143.5 601.5,143.6 602.3,143.6 603.1,143.4 603.9,143.0 604.7,142.6 605.6,142.2 606.4,141.7 607.3,141.4 608.1,141.2 608.9,141.1 609.7,141.2 610.5,141.5 611.3,141.9 612.0,142.5 612.7,143.1 613.4,143.8 614.1,144.4 614.8,144.9 615.5,145.3 616.3,145.6 617.1,145.6 618.0,145.5 618.8,145.2 619.7,144.9 620.6,144.5 621.5,144.1 622.3,143.9 623.1,143.7 624.0,143.7 624.7,143.9 625.5,144.2 626.2,144.7 626.9,145.3 627.6,146.0 628.3,146.6 629.0,147.2 629.8,147.7 630.5,148.0 631.3,148.2 632.1,148.2 633.0,148.0 633.8,147.7 634.7,147.3 635.6,146.9 636.5,146.5 637.3,146.2 638.2,146.1 639.0,146.1 639.7,146.3 640.5,146.7 641.2,147.3 641.9,147.9 642.6,148.6 643.3,149.3 644.0,149.8 644.8,150.3 645.5,150.6 646.3,150.7 647.1,150.7 648.0,150.4 648.8,150.1 649.7,149.7 650.6,149.2 651.5,148.9 652.3,148.6 653.2,148.5 654.0,148.6 654.7,148.8 655.5,149.3 656.2,149.8 656.9,150.5 657.6,151.2 658.3,151.9 659.0,152.5 659.7,153.0 660.5,153.2 661.3,153.3 662.1,153.2 662.9,153.0 663.8,152.6 664.7,152.2 665.6,151.7 666.5,151.4 667.3,151.1 668.2,151.0 669.0,151.1 669.7,151.4 670.5,151.9 671.2,152.5 671.8,153.2 672.5,154.0 673.2,154.7 673.9,155.3 674.6,155.7 675.4,156.0 676.2,156.0 677.1,155.9 677.9,155.6 678.8,155.2 679.7,154.8 680.6,154.3 681.5,153.9 682.3,153.7 683.1,153.6 683.9,153.7 684.7,154.1 685.4,154.6 686.1,155.2 686.8,155.9 687.5,156.7 688.2,157.3 689.1,157.9 689.9,158.2 690.6,158.4 691.3,158.4 692.0,158.2 692.9,157.9 693.8,157.5 694.7,157.0 695.6,156.6 696.5,156.2 697.4,156.0 698.2,156.0 699.0,156.1 699.7,156.5 700.4,157.1 701.1,157.8 701.8,158.5 702.4,159.3 703.1,160.1 703.8,160.7 704.5,161.2 705.3,161.4 706.1,161.5 706.9,161.3 707.8,161.0 708.7,160.5 709.6,160.0 710.5,159.5 711.4,159.2 712.3,158.9 713.1,158.9 713.9,159.1 714.6,159.5 715.3,160.1 716.0,160.8 716.6,161.6 717.3,162.4 717.9,163.2 718.6,163.9 719.3,164.3 720.1,164.6 720.9,164.6 721.7,164.5 722.6,164.1 723.6,163.7 724.5,163.2 725.4,162.7 726.4,162.3 727.2,162.1 728.1,162.1 728.9,162.4 729.6,162.8 730.3,163.5 730.9,164.3 731.4,165.2 731.9,166.2 732.5,167.0 733.0,167.8 733.7,168.4 734.4,168.7 735.2,168.9 736.0,168.8 737.0,168.6 738.0,168.2 739.0,167.8 740.0,167.4 740.9,167.1 741.9,166.9 742.7,167.0 743.4,167.3 744.1,167.8 744.6,168.5 745.2,169.3 745.8,170.1 746.5,171.0 747.2,171.8 748.1,172.3 749.0,172.7 749.9,172.8 750.7,172.6 751.5,172.1 752.2,171.5 753.0,170.7 753.7,169.9 754.4,169.1 755.2,168.4 756.0,167.9 756.8,167.6 757.6,167.6 758.4,167.8 759.2,168.2 760.1,168.8 760.9,169.5 761.7,170.3 762.6,170.9 763.5,171.4 764.4,171.7 765.2,171.7 766.1,171.4 766.9,170.9 767.6,170.1 768.2,169.2 768.7,168.3 769.2,167.3 769.8,166.4 770.3,165.7 770.9,165.2 771.6,164.9 772.4,164.8 773.2,164.9 774.2,165.2 775.3,165.4 776.4,165.7 777.5,165.8 778.6,165.6 779.6,165.2 780.3,164.5 780.8,163.6 781.0,162.6 780.8,161.5 780.4,160.4 779.9,159.4 779.4,158.5 778.8,157.6 778.5,156.8 778.3,156.0 778.4,155.4 778.6,154.8 779.1,154.1 779.7,153.3 780.3,152.4 780.9,151.4 781.4,150.4 781.8,149.4 781.9,148.5 781.7,147.6 781.2,146.9 780.5,146.3 779.6,145.8 778.6,145.4 777.5,145.0 776.4,144.7 775.4,144.4 774.7,144.0 774.1,143.6 773.7,143.0 773.5,142.2 773.5,141.4 773.4,140.3 773.4,139.2 773.3,138.0 773.0,136.9 772.6,136.0 772.1,135.2 771.4,134.8 770.6,134.5 769.6,134.6 768.6,134.8 767.5,135.1 766.4,135.5 765.3,135.8 764.3,136.0 763.5,136.1 762.7,135.9 762.1,135.4 761.5,134.7 761.0,133.8 760.6,132.8 760.2,131.7 759.9,130.6 759.5,129.6 759.1,128.8 758.5,128.3 757.9,127.9 757.2,127.9 756.3,127.9 755.2,128.0 754.0,128.1 752.8,128.2 751.7,128.1 750.7,127.8 749.9,127.3 749.3,126.7 749.0,125.8 749.0,124.8 749.2,123.7 749.5,122.5 749.9,121.4 750.2,120.3 750.4,119.4 750.5,118.6 750.4,118.0 750.0,117.5 749.4,117.0 748.6,116.4 747.7,115.7 746.8,114.9 746.1,113.9 745.6,112.8 745.4,111.8 745.6,110.8 746.2,110.0 747.0,109.4 748.1,109.0 749.3,108.8 750.5,108.7 751.7,108.7 752.7,108.7 753.6,108.6 754.2,108.3 754.7,107.7 755.0,107.0 755.2,106.0 755.4,104.9 755.6,103.6 755.9,102.4 756.2,101.4 756.8,100.5 757.4,99.9 758.2,99.6 759.1,99.7 760.2,100.0 761.2,100.5 762.3,101.1 763.4,101.7 764.4,102.1 765.4,102.4 766.2,102.4 766.9,102.1 767.5,101.5 768.1,100.7 768.6,99.6 769.1,98.5 769.6,97.3 770.2,96.3 770.8,95.5 771.5,95.0 772.3,94.9 773.2,95.0 774.1,95.5 775.1,96.1 776.1,96.9 777.1,97.7 778.1,98.3 779.1,98.7 780.0,98.8 780.8,98.6 781.4,98.1 782.0,97.2 782.5,96.2 783.0,95.0 783.5,93.8 784.1,92.8 784.8,91.9 785.5,91.4 786.4,91.2 787.4,91.3 788.3,91.9 789.3,92.7 790.1,93.7 790.8,94.7 791.5,95.7 792.1,96.5 792.8,97.0 793.5,97.2 794.4,97.0 795.3,96.6 796.2,95.9 797.2,95.0 798.1,94.1 798.9,93.2 799.5,92.5 800.1,92.0 800.6,91.9 801.3,92.0 802.2,92.4 803.2,93.0 804.3,93.8 805.2,94.7 806.0,95.6 806.8,96.3 807.5,96.8 808.3,96.9 809.1,96.6 809.9,96.0 810.7,95.2 811.5,94.2 812.3,93.1 813.1,92.2 814.0,91.4 814.8,90.9 815.6,90.8 816.4,91.1 817.2,91.7 817.9,92.6 818.7,93.7 819.4,94.8 820.2,95.9 820.9,96.7 821.7,97.3 822.5,97.5 823.3,97.3 824.1,96.8 825.0,96.0 825.8,95.0 826.7,94.0 827.6,93.0 828.5,92.2 829.3,91.8 830.2,91.7 831.0,91.9 831.7,92.6 832.4,93.5 833.1,94.7 833.8,95.9 834.4,97.0 835.1,98.0 835.9,98.6 836.6,98.9 837.4,98.9 838.3,98.4 839.2,97.7 840.1,96.7 841.0,95.7 842.0,94.7 842.9,93.9 843.8,93.4 844.6,93.3 845.4,93.6 846.1,94.2 846.8,95.2 847.4,96.4 848.0,97.6 848.6,98.9 849.3,99.9 849.9,100.7 850.6,101.1 851.4,101.1 852.3,100.8 853.2,100.1 854.2,99.2 855.2,98.2 856.3,97.2 857.3,96.4 858.2,96.0 859.1,95.8 859.9,96.1 860.5,96.8 861.1,97.8 861.7,99.0 862.1,100.4 862.6,101.7 863.1,102.9 863.7,103.8 864.3,104.3 865.1,104.5 866.0,104.3 867.0,103.7 868.0,102.9 869.1,102.0 870.3,101.1 871.3,100.3 872.3,99.9 873.2,99.7 874.0,100.0 874.6,100.6 875.2,101.6 875.6,102.8 876.0,104.2 876.4,105.6 876.8,106.9 877.3,107.9 878.0,108.6 878.7,108.9 879.6,108.7 880.6,108.3 881.7,107.5 882.8,106.6 883.9,105.7 885.0,104.8 886.0,104.3 886.9,104.0 887.7,104.1 888.4,104.7 888.9,105.6 889.4,106.8 889.9,108.2 890.3,109.6 890.7,110.9 891.1,112.0 891.6,112.8 892.3,113.2 893.0,113.2 894.0,112.9 895.0,112.3 896.2,111.5 897.5,110.8 898.9,110.2 900.2,109.9 901.4,110.0 902.2,110.4 902.7,111.1 902.9,112.0 902.9,113.3 902.7,114.7 902.6,116.1 902.6,117.6 902.7,119.0 903.0,120.0 903.6,120.7 904.4,121.1 905.4,121.0 906.5,120.7 907.8,120.1 909.1,119.4 910.4,118.6 911.7,118.1 912.7,117.8 913.6,117.8 914.3,118.2 914.8,119.0 915.1,120.1 915.3,121.5 915.3,123.0 915.4,124.5 915.5,125.9 915.8,127.1 916.2,127.9 916.8,128.4 917.6,128.5 918.7,128.2 919.9,127.7 921.3,127.1 922.6,126.4 924.0,125.8 925.2,125.5 926.2,125.4 927.0,125.7 927.6,126.3 927.9,127.3 928.0,128.6 927.9,130.1 927.8,131.6 927.7,133.1 927.7,134.4 927.9,135.5 928.3,136.2 928.9,136.6 929.9,136.6 931.0,136.4 932.4,136.0 933.9,135.6 935.4,135.2 936.8,135.0 938.0,135.1 939.0,135.5 939.6,136.2 939.9,137.2 939.7,138.4 939.2,139.7 938.5,141.1 937.7,142.4 936.8,143.6 936.1,144.5 935.7,145.3 935.6,145.9 936.0,146.4 936.8,147.0 937.8,147.5 939.1,148.2 940.5,149.0 941.8,149.9 942.8,150.8 943.5,151.8 943.8,152.8 943.5,153.7 942.9,154.5 941.8,155.1 940.5,155.7 938.9,156.1 937.4,156.4 936.0,156.7 934.9,157.0 934.1,157.4 933.7,157.9 933.7,158.6 934.0,159.5 934.5,160.7 935.1,162.0 935.6,163.5 936.1,165.0 936.3,166.3 936.2,167.5 935.7,168.4 935.0,168.9 934.0,169.1 932.7,169.0 931.4,168.6 929.9,168.0 928.5,167.4 927.2,166.8 926.1,166.4 925.1,166.3 924.5,166.6 924.0,167.2 923.7,168.2 923.5,169.5 923.3,170.9 923.2,172.5 923.0,174.0 922.7,175.4 922.2,176.4 921.5,177.1 920.7,177.3 919.7,177.2 918.7,176.6 917.5,175.8 916.3,174.8 915.2,173.8 914.1,172.8 913.0,172.2 912.1,171.8 911.3,171.8 910.6,172.3 910.0,173.1 909.5,174.3 909.1,175.7 908.7,177.2 908.3,178.7 907.8,180.0 907.2,181.0 906.6,181.6 905.8,181.8 905.0,181.6 904.0,181.1 902.9,180.2 901.8,179.2 900.6,178.2 899.5,177.2 898.5,176.5 897.6,176.0 896.7,176.0 896.0,176.3 895.4,177.1 894.9,178.2 894.4,179.6 894.0,181.0 893.5,182.5 893.0,183.8 892.5,184.9 891.8,185.5 891.1,185.8 890.2,185.7 889.3,185.2 888.3,184.4 887.2,183.4 886.0,182.4 884.9,181.4 883.9,180.6 882.9,180.1 881.9,180.0 881.2,180.3 880.5,181.1 880.0,182.1 879.6,183.5 879.3,184.9 879.0,186.4 878.8,187.8 878.4,189.0 878.0,189.9 877.4,190.4 876.6,190.5 875.7,190.3 874.6,189.8 873.3,189.1 872.0,188.4 870.7,187.7 869.3,187.3 868.1,187.1 867.1,187.3 866.3,187.9 865.8,188.8 865.7,190.0 865.8,191.4 866.2,192.8 866.7,194.2 867.2,195.5 867.6,196.7 867.8,197.7 867.8,198.4 867.4,199.0 866.6,199.4 865.6,199.7 864.3,199.9 862.8,200.1 861.4,200.4 860.0,200.8 858.8,201.3 858.0,201.9 857.5,202.7 857.4,203.6 857.8,204.6 858.4,205.6 859.3,206.7 860.4,207.7 861.5,208.7 862.5,209.6 863.2,210.4 863.7,211.2 863.8,211.9 863.5,212.6 862.8,213.3 861.9,214.1 860.8,214.9 859.5,215.7 858.4,216.6 857.4,217.5 856.7,218.4 856.3,219.3 856.4,220.2 856.8,221.0 857.6,221.7 858.7,222.4 860.0,223.0 861.4,223.5 862.7,224.0 863.8,224.5 864.8,225.0 865.4,225.5 865.6,226.2 865.5,227.0 865.1,227.9 864.5,228.9 863.8,230.1 863.1,231.4 862.5,232.7 862.1,233.9 862.0,235.1 862.2,236.0 862.7,236.7 863.5,237.2 864.6,237.4 865.9,237.4 867.3,237.3 868.8,237.2 870.1,237.0 871.4,237.0 872.4,237.1 873.2,237.5 873.8,238.2 874.0,239.1 874.0,240.2 873.7,241.4 873.3,242.8 872.8,244.1 872.4,245.5 872.2,246.7 872.1,247.8 872.3,248.6 872.9,249.3 873.7,249.7 874.8,249.9 876.0,249.9 877.4,249.7 878.9,249.5 880.2,249.3 881.4,249.2 882.5,249.2 883.2,249.4 883.7,249.8 883.9,250.4 884.0,251.3 884.1,252.5 884.3,253.8 884.5,255.2 884.8,256.6 885.0,257.8 885.3,258.7 885.6,259.4 886.1,259.7 886.7,259.7 887.6,259.6 888.7,259.4 890.0,259.2 891.5,259.1 892.9,259.0 894.1,259.1 895.2,259.3 896.1,259.8 896.6,260.4 896.9,261.3 896.8,262.3 896.5,263.5 896.0,264.8 895.4,266.1 894.9,267.3 894.4,268.5 894.1,269.6 894.1,270.5 894.4,271.2 895.0,271.8 895.9,272.2 897.0,272.5 898.3,272.7 899.7,272.8 901.1,273.0 902.4,273.3 903.5,273.7 904.3,274.2 904.8,274.8 905.0,275.6 904.9,276.6 904.5,277.7 903.9,278.8 903.2,280.0 902.5,281.2 901.8,282.3 901.2,283.4 901.0,284.3 901.0,285.1 901.3,285.8 901.9,286.4 902.9,286.9 904.0,287.3 905.3,287.8 906.6,288.2 907.9,288.8 909.0,289.4 909.8,290.2 910.3,291.1 910.4,292.2 910.1,293.2 909.5,294.1 908.5,295.0 907.3,295.6 906.0,296.2 904.7,296.8 903.6,297.3 902.7,298.0 902.0,298.8 901.8,299.8 901.9,300.9 902.4,302.1 903.4,303.0 904.6,303.8 906.0,304.2 907.4,304.4 908.6,304.5 909.8,304.8 910.8,305.4 911.5,306.3 911.8,307.4 911.7,308.6 911.1,309.8 910.2,310.8 909.1,311.6 907.8,312.3 906.7,313.0 905.6,313.6 904.8,314.3 904.3,314.9 904.0,315.6 904.1,316.4 904.6,317.3 905.2,318.2 906.0,319.2 906.9,320.2 907.8,321.3 908.6,322.4 909.1,323.5 909.4,324.5 909.4,325.4 909.0,326.2 908.3,326.9 907.2,327.4 906.0,327.8 904.7,328.0 903.3,328.1 901.9,328.2 900.7,328.4 899.7,328.5 899.0,328.9 898.5,329.3 898.2,330.0 898.2,330.9 898.3,332.0 898.5,333.3 898.8,334.7 899.1,336.0 899.2,337.4 899.2,338.6 899.1,339.6 898.7,340.4 898.0,340.9 897.2,341.2 896.1,341.2 894.9,341.1 893.6,340.8 892.2,340.5 890.9,340.1 889.6,339.9 888.5,339.8 887.6,339.9 886.9,340.3 886.4,340.9 886.1,341.8 885.9,342.9 885.9,344.1 886.0,345.5 886.1,346.9 886.2,348.3 886.1,349.5 885.9,350.5 885.5,351.4 884.9,351.9 884.1,352.2 883.1,352.2 881.9,352.0 880.6,351.6 879.3,351.2 878.0,350.7 876.7,350.3 875.5,350.1 874.5,350.1 873.7,350.3 873.1,350.8 872.7,351.6 872.5,352.6 872.3,353.8 872.3,355.1 872.3,356.6 872.3,358.0 872.1,359.3 871.9,360.4 871.4,361.3 870.8,361.9 870.0,362.2 869.0,362.2 867.9,361.9 866.7,361.5 865.5,360.8 864.2,360.2 863.0,359.5 861.9,359.0 860.8,358.7 859.9,358.7 859.1,359.0 858.5,359.6 858.0,360.4 857.7,361.5 857.5,362.8 857.3,364.2 857.2,365.6 857.0,367.0 856.7,368.2 856.4,369.2 855.8,369.9 855.1,370.3 854.3,370.4 853.3,370.3 852.1,369.8 850.9,369.3 849.7,368.6 848.4,367.9 847.2,367.2 846.1,366.8 845.1,366.5 844.3,366.6 843.6,366.9 843.1,367.6 842.6,368.5 842.3,369.7 842.0,371.1 841.8,372.5 841.5,373.9 841.2,375.2 840.7,376.3 840.1,377.2 839.4,377.7 838.6,377.9 837.7,377.8 836.7,377.3 835.6,376.7 834.5,375.8 833.3,374.9 832.2,374.0 831.1,373.2 830.2,372.7 829.3,372.4 828.4,372.4 827.7,372.7 827.1,373.4 826.6,374.4 826.1,375.6 825.6,376.9 825.1,378.3 824.7,379.6 824.1,380.9 823.6,381.8 822.9,382.5 822.2,382.9 821.3,382.9 820.4,382.6 819.4,382.0 818.4,381.1 817.3,380.1 816.3,379.0 815.3,378.0 814.4,377.1 813.5,376.5 812.7,376.1 811.8,376.1 811.0,376.5 810.3,377.2 809.6,378.2 809.0,379.4 808.5,380.8 807.9,382.2 807.4,383.5 806.8,384.6 806.2,385.5 805.5,386.1 804.7,386.3 803.9,386.2 803.0,385.8 802.0,385.1 801.0,384.1 800.0,383.1 798.9,382.0 797.9,381.1 796.9,380.3 796.0,379.7 795.1,379.5 794.3,379.7 793.6,380.1 793.0,381.0 792.4,382.0 791.8,383.3 791.3,384.7 790.8,386.1 790.3,387.4 789.7,388.5 789.1,389.4 788.4,389.9 787.6,390.1 786.7,389.9 785.8,389.4 784.8,388.6 783.8,387.7 782.7,386.6 781.7,385.6 780.6,384.6 779.7,383.8 778.7,383.4 777.9,383.2 777.1,383.4 776.4,384.0 775.7,384.8 775.2,386.0 774.7,387.3 774.2,388.8 773.7,390.2 773.2,391.5 772.5,392.6 771.8,393.4 771.0,393.9 770.2,394.0 769.2,393.7 768.3,393.0 767.3,392.1 766.4,391.0 765.5,389.8 764.6,388.6 763.6,387.6 762.8,386.7 761.9,386.2 761.1,385.9 760.3,386.1 759.5,386.6 758.8,387.5 758.1,388.6 757.4,389.9 756.8,391.2 756.1,392.6 755.5,393.8 754.8,394.8 754.0,395.5 753.3,395.8 752.5,395.8 751.6,395.5 750.7,394.8 749.8,393.8 748.9,392.7 747.9,391.5 747.0,390.4 746.1,389.4 745.2,388.6 744.3,388.1 743.5,387.9 742.8,388.1 742.0,388.7 741.3,389.6 740.6,390.7 740.0,392.0 739.3,393.3 738.6,394.7 737.9,395.8 737.2,396.8 736.4,397.4 735.6,397.7 734.8,397.6 733.9,397.2 733.0,396.4 732.2,395.4 731.3,394.2 730.4,392.9 729.6,391.7 728.8,390.7 728.0,389.8 727.2,389.3 726.4,389.1 725.6,389.3 724.9,389.8 724.1,390.7 723.3,391.7 722.5,393.0 721.6,394.2 720.8,395.4 720.0,396.5 719.1,397.3 718.3,397.8 717.5,397.9 716.7,397.7 715.9,397.1 715.1,396.2 714.4,395.1 713.6,393.8 712.9,392.5 712.2,391.2 711.5,390.1 710.7,389.2 710.0,388.7 709.2,388.5 708.4,388.6 707.5,389.1 706.7,390.0 705.8,391.0 704.9,392.2 704.0,393.4 703.2,394.6 702.3,395.6 701.5,396.4 700.7,396.8 699.9,396.9 699.1,396.7 698.4,396.0 697.6,395.1 696.9,394.0 696.1,392.7 695.3,391.4 694.5,390.2 693.6,389.2 692.8,388.4 691.9,388.0 691.1,387.9 690.2,388.2 689.4,388.9 688.7,389.8 688.0,391.0 687.3,392.4 686.6,393.7 685.9,395.0 685.3,396.1 684.6,397.0 683.8,397.5 683.0,397.7 682.2,397.5 681.3,396.9 680.4,396.1 679.5,395.0 678.6,393.8 677.7,392.6 676.9,391.5 676.1,390.5 675.3,389.8 674.6,389.3 673.9,389.3 673.2,389.5 672.4,390.1 671.6,391.0 670.7,392.1 669.8,393.3 668.8,394.4 667.9,395.5 666.9,396.3 666.0,396.9 665.1,397.2 664.3,397.0 663.5,396.6 662.8,395.8 662.2,394.7 661.6,393.4 661.1,392.0 660.6,390.6 660.0,389.3 659.5,388.2 658.9,387.4 658.2,386.8 657.4,386.7 656.5,386.8 655.6,387.3 654.6,388.0 653.6,389.0 652.5,390.0 651.5,391.0 650.4,391.9 649.3,392.6 648.2,392.9 647.2,393.0 646.3,392.6 645.6,391.9 645.2,390.9 644.9,389.8 644.6,388.4 644.3,387.0 644.0,385.6 643.7,384.2 643.3,383.1 642.8,382.2 642.2,381.6 641.5,381.4 640.6,381.4 639.6,381.7 638.5,382.3 637.3,383.0 636.1,383.7 634.9,384.5 633.7,385.1 632.6,385.6 631.6,385.8 630.7,385.6 630.0,385.2 629.4,384.4 629.0,383.4 628.7,382.1 628.6,380.7 628.5,379.3 628.4,377.9 628.3,376.6 628.1,375.5 627.8,374.6 627.3,374.0 626.6,373.7 625.7,373.6 624.7,373.8 623.5,374.1 622.1,374.5 620.8,375.0 619.4,375.3 618.1,375.5 616.9,375.5 615.9,375.2 615.1,374.5 614.5,373.6 614.3,372.4 614.5,371.1 615.0,369.8 615.8,368.5 616.7,367.5 617.6,366.5 618.5,365.6 619.1,364.8 619.4,364.1 619.5,363.4 619.2,362.7 618.6,362.0 617.7,361.3 616.7,360.5 615.6,359.7 614.5,358.8 613.6,357.8 612.8,356.7 612.4,355.7 612.3,354.7 612.6,353.8 613.2,352.9 614.2,352.3 615.4,351.8 616.8,351.5 618.2,351.5 619.5,351.6 620.7,351.8 621.8,351.9 622.6,351.9 623.3,351.7 623.8,351.2 624.2,350.4 624.4,349.3 624.5,348.1 624.5,346.7 624.4,345.3 624.3,343.9 624.3,342.7 624.5,341.6 624.8,340.8 625.4,340.1 626.2,339.8 627.1,339.7 628.3,339.9 629.5,340.2 630.8,340.5 632.2,341.0 633.4,341.4 634.6,341.6 635.6,341.7 636.4,341.5 637.1,341.0 637.5,340.3 637.8,339.3 638.0,338.1 638.0,336.8 638.0,335.4 638.0,334.0 638.0,332.8 638.2,331.7 638.5,330.8 639.0,330.2 639.7,329.8 640.6,329.7 641.6,329.8 642.9,330.1 644.2,330.4 645.5,330.7 646.8,330.9 648.1,331.0 649.2,330.8 650.1,330.4 650.7,329.8 651.1,328.9 651.1,327.9 651.0,326.7 650.7,325.4 650.2,324.1 649.8,322.8 649.4,321.6 649.1,320.5 649.1,319.6 649.3,318.8 649.8,318.2 650.6,317.8 651.6,317.5 652.8,317.3 654.2,317.1 655.5,317.0 656.8,316.8 658.0,316.6 659.0,316.2 659.7,315.7 660.1,315.1 660.3,314.2 660.2,313.3 659.8,312.2 659.4,310.9 658.8,309.7 658.4,308.4 658.1,307.1 658.0,306.0 658.1,305.0 658.5,304.2 659.3,303.6 660.2,303.3 661.3,303.2 662.5,303.3 663.9,303.4 665.2,303.5 666.6,303.5 667.8,303.1 668.9,302.5 669.6,301.8 669.9,300.9 669.9,299.9 669.6,298.9 669.0,297.8 668.2,296.7 667.4,295.6 666.6,294.6 665.8,293.7 665.3,292.8 665.0,292.1 665.0,291.4 665.3,290.7 665.9,290.1 666.8,289.4 667.8,288.7 668.9,287.8 669.8,286.9 670.7,285.8 671.1,284.6 671.2,283.4 671.0,282.4 670.3,281.6 669.4,281.0 668.3,280.7 667.0,280.6 665.7,280.6 664.4,280.6 663.1,280.6 661.9,280.4 660.9,280.0 660.2,279.4 659.7,278.6 659.6,277.6 659.8,276.4 660.3,275.2 661.0,274.1 661.8,273.0 662.6,272.0 663.2,271.0 663.7,270.2 663.9,269.3 663.7,268.6 663.2,267.9 662.5,267.2 661.5,266.6 660.3,266.0 659.0,265.4 657.9,264.9 656.8,264.4 655.9,264.0 655.4,263.5 655.1,262.9 655.1,262.2 655.3,261.4 655.7,260.4 656.1,259.2 656.4,257.9 656.6,256.6 656.7,255.4 656.6,254.3 656.2,253.4 655.7,252.7 654.9,252.4 653.9,252.2 652.7,252.3 651.4,252.6 650.1,252.9 648.9,253.2 647.7,253.4 646.6,253.4 645.7,253.2 645.0,252.7 644.4,251.9 644.2,250.9 644.1,249.7 644.3,248.4 644.7,247.1 645.1,245.9 645.5,244.7 645.6,243.6 645.3,242.4 644.6,241.5 643.7,241.0 642.6,240.8 641.4,240.9 640.2,241.3 639.0,241.7 637.7,242.1 636.6,242.5 635.6,242.7 634.7,242.7 634.0,242.4 633.4,241.8 633.0,241.0 632.7,239.9 632.4,238.7 632.2,237.4 632.0,236.1 631.7,235.0 631.4,234.0 630.9,233.2 630.2,232.8 629.4,232.6 628.4,232.6 627.4,232.9 626.2,233.4 625.0,233.9 623.8,234.4 622.7,234.8 621.7,235.1 620.8,235.1 620.1,234.8 619.5,234.2 619.1,233.4 618.7,232.3 618.4,231.1 618.1,229.9 617.7,228.6 617.3,227.5 616.7,226.6 616.1,226.0 615.3,225.6 614.4,225.6 613.5,225.9 612.5,226.4 611.4,227.1 610.3,227.8 609.3,228.5 608.3,229.1 607.3,229.5 606.5,229.6 605.7,229.4 605.1,228.9 604.5,228.1 603.9,227.1 603.4,226.0 602.8,224.8 602.3,223.7 601.7,222.7 601.0,221.9 600.2,221.4 599.3,221.3 598.4,221.5 597.5,222.0 596.6,222.7 595.7,223.6 594.8,224.5 593.8,225.3 592.9,226.0 591.9,226.4 591.0,226.5 590.1,226.2 589.3,225.6 588.7,224.7 588.2,223.7 587.8,222.5 587.4,221.2 587.0,220.1 586.5,219.0 585.9,218.3 585.2,217.7 584.3,217.6 583.5,217.7 582.5,218.1 581.5,218.7 580.4,219.4 579.3,220.1 578.4,220.8 577.5,221.3 576.7,221.6 575.9,221.7 575.2,221.4 574.5,220.9 573.8,220.0 573.2,219.0 572.5,217.9 571.9,216.9 571.2,215.9 570.5,215.1 569.7,214.5 568.9,214.3 568.1,214.4 567.2,214.8 566.3,215.5 565.4,216.3 564.6,217.2 563.7,218.1 562.8,218.9 562.0,219.5 561.3,219.9 560.5,219.9 559.8,219.7 559.0,219.2 558.2,218.4 557.4,217.5 556.6,216.6 555.7,215.7 554.7,215.0 553.8,214.5 552.9,214.3 552.0,214.4 551.2,214.9 550.5,215.7 549.8,216.7 549.4,217.9 549.0,219.1 548.8,220.3 548.5,221.3 548.3,222.1 547.9,222.7 547.5,223.1 546.8,223.3 545.9,223.3 544.9,223.3 543.7,223.4 542.5,223.7 541.3,224.5 540.5,225.6 540.1,226.9 540.2,228.1 540.6,229.1 541.4,229.9 542.5,230.3 543.7,230.6 544.9,230.6 546.2,230.6 547.4,230.6 548.4,230.6 549.3,230.7 550.0,231.0 550.5,231.5 550.8,232.3 551.0,233.3 551.1,234.4 551.2,235.6 551.3,236.9 551.4,238.1 551.7,239.2 552.1,240.1 552.6,240.7 553.4,241.1 554.3,241.2 555.3,241.1 556.4,240.8 557.6,240.4 558.8,240.0 559.9,239.6 561.0,239.3 561.9,239.3 562.7,239.5 563.3,239.9 563.8,240.6 564.2,241.5 564.6,242.7 564.9,243.9 565.1,245.1 565.4,246.3 565.7,247.3 566.1,248.1 566.7,248.7 567.4,249.0 568.2,249.0 569.2,248.9 570.3,248.6 571.5,248.3 572.7,248.0 573.9,247.8 575.0,247.7 576.0,247.8 576.8,248.1 577.4,248.7 577.8,249.5 578.0,250.5 578.1,251.7 578.1,252.9 578.0,254.2 578.0,255.4 578.1,256.5 578.4,257.4 578.8,258.1 579.4,258.6 580.3,258.8 581.3,258.9 582.4,258.9 583.6,258.7 584.9,258.5 586.1,258.4 587.2,258.3 588.2,258.5 588.9,258.8 589.5,259.4 589.9,260.1 590.1,261.1 590.1,262.3 590.1,263.5 590.0,264.7 589.9,266.0 589.9,267.1 590.1,268.0 590.4,268.8 590.9,269.4 591.6,269.7 592.5,269.9 593.6,270.0 594.8,270.0 596.1,270.0 597.3,270.1 598.5,270.3 599.5,270.6 600.3,271.2 600.8,271.9 601.0,272.7 601.0,273.7 600.8,274.8 600.3,276.0 599.8,277.1 599.2,278.2 598.7,279.2 598.3,280.2 598.2,281.0 598.3,281.7 598.6,282.4 599.2,283.0 600.1,283.6 601.1,284.1 602.2,284.7 603.3,285.3 604.3,286.0 605.1,286.8 605.7,287.6 606.0,288.4 605.9,289.3 605.6,290.1 605.0,291.0 604.2,291.9 603.3,292.7 602.3,293.4 601.3,294.1 600.5,294.8 599.8,295.4 599.4,296.1 599.3,296.7 599.4,297.5 599.7,298.3 600.2,299.3 600.8,300.3 601.5,301.3 602.0,302.5 602.5,303.6 602.7,304.6 602.6,305.6 602.3,306.5 601.6,307.2 600.8,307.7 599.7,308.0 598.5,308.2 597.2,308.1 596.0,308.1 594.8,307.9 593.8,307.9 593.0,307.9 592.3,308.1 591.7,308.6 591.3,309.2 591.0,310.1 590.7,311.1 590.5,312.3 590.2,313.5 589.8,314.7 589.4,315.8 588.8,316.7 588.1,317.3 587.3,317.7 586.4,317.7 585.5,317.5 584.5,317.1 583.5,316.4 582.5,315.7 581.5,315.0 580.5,314.3 579.6,313.8 578.8,313.4 578.0,313.4 577.2,313.6 576.5,314.0 575.8,314.8 575.2,315.7 574.5,316.7 573.9,317.8 573.2,318.8 572.5,319.7 571.8,320.4 571.1,320.8 570.2,321.0 569.4,320.9 568.5,320.5 567.6,319.9 566.7,319.1 565.9,318.2 565.0,317.3 564.2,316.5 563.4,315.8 562.7,315.4 561.9,315.2 561.2,315.2 560.5,315.5 559.7,316.1 558.9,316.8 558.0,317.5 557.0,318.3 556.0,319.0 555.0,319.5 554.0,319.9 553.1,319.9 552.3,319.7 551.6,319.2 550.9,318.5 550.4,317.6 549.9,316.5 549.5,315.4 549.0,314.2 548.5,313.2 548.0,312.3 547.3,311.6 546.6,311.2 545.7,311.1 544.7,311.2 543.8,311.6 542.8,312.2 541.8,312.9 540.9,313.7 540.1,314.5 539.3,315.2 538.5,315.7 537.7,316.0 536.9,316.0 536.0,315.7 535.1,315.1 534.3,314.3 533.6,313.3 533.1,312.3 532.6,311.2 532.2,310.2 531.8,309.4 531.3,308.7 530.7,308.2 530.0,308.0 529.1,307.9 528.0,308.1 527.0,308.4 525.9,308.9 524.8,309.3 523.7,309.7 522.7,310.0 521.8,310.1 521.0,310.0 520.3,309.7 519.7,309.1 519.2,308.4 518.7,307.5 518.3,306.5 517.8,305.4 517.2,304.4 516.7,303.4 516.1,302.7 515.4,302.1 514.7,301.8 513.9,301.7 513.0,301.9 512.0,302.2 511.1,302.7 510.0,303.3 509.0,303.8 508.0,304.2 507.0,304.5 506.1,304.7 505.3,304.5 504.5,304.1 503.9,303.5 503.3,302.7 502.9,301.8 502.4,300.7 502.0,299.6 501.6,298.6 501.2,297.7 500.7,296.9 500.0,296.3 499.3,296.0 498.5,295.8 497.6,295.9 496.6,296.2 495.6,296.5 494.5,296.9 493.4,297.4 492.4,297.7 491.5,297.9 490.7,297.9 489.9,297.8 489.2,297.4 488.6,296.8 488.1,296.0 487.6,295.1 487.0,294.1 486.6,293.0 486.0,292.1 485.5,291.3 484.9,290.6 484.3,290.2 483.6,289.9 482.8,289.9 481.9,290.0 480.9,290.2 479.9,290.5 478.8,290.8 477.7,291.1 476.7,291.2 475.8,291.2 475.0,291.0 474.3,290.6 473.7,290.0 473.3,289.2 472.9,288.3 472.5,287.3 472.2,286.3 471.8,285.2 471.4,284.3 470.9,283.5 470.3,282.8 469.6,282.4 468.8,282.2 467.9,282.2 466.9,282.4 465.9,282.7 464.9,283.0 463.8,283.4 462.8,283.6 461.8,283.8 461.0,283.7 460.2,283.5 459.5,283.0 458.9,282.4 458.4,281.5 458.0,280.6 457.7,279.5 457.4,278.5 457.1,277.5 456.8,276.6 456.4,275.8 455.8,275.2 455.2,274.8 454.4,274.5 453.6,274.4 452.6,274.4 451.5,274.4 450.4,274.5 449.3,274.5 448.3,274.4 447.4,274.1 446.7,273.7 446.1,273.1 445.6,272.4 445.4,271.5 445.2,270.5 445.2,269.5 445.2,268.4 445.2,267.3 445.1,266.3 445.0,265.4 444.7,264.7 444.3,264.1 443.7,263.6 443.0,263.2 442.1,262.9 441.1,262.5 440.1,262.2 439.1,261.8 438.2,261.2 437.5,260.6 436.9,259.9 436.6,259.0 436.5,258.1 436.7,257.2 437.0,256.3 437.5,255.4 438.1,254.5 438.7,253.6 439.2,252.8 439.7,252.0 439.9,251.2 440.0,250.4 439.8,249.6 439.4,248.9 438.9,248.1 438.3,247.3 437.6,246.5 436.9,245.7 436.4,244.8 436.0,243.9 435.8,243.0 435.9,242.2 436.1,241.4 436.6,240.6 437.3,239.9 438.0,239.3 438.9,238.6 439.7,237.9 440.4,237.2 441.0,236.4 441.3,235.5 441.4,234.6 441.3,233.8 440.9,232.9 440.4,232.2 439.7,231.4 439.0,230.6 438.3,229.8 437.7,228.9 437.4,227.9 437.4,226.9 437.6,226.0 438.0,225.2 438.7,224.5 439.6,224.0 440.6,223.6 441.6,223.3 442.5,223.0 443.5,222.6 444.3,222.2 444.9,221.7 445.4,221.1 445.7,220.3 445.9,219.5 446.0,218.6 445.9,217.6 445.9,216.5 445.9,215.5 446.1,214.5 446.3,213.6 446.8,212.9 447.4,212.3 448.1,211.8 449.0,211.5 450.0,211.4 451.0,211.4 452.0,211.4 453.0,211.4 454.0,211.4 454.8,211.2 455.5,211.0 456.2,210.5 456.7,209.9 457.2,209.1 457.6,208.3 457.9,207.3 458.3,206.4 458.8,205.5 459.3,204.7 459.8,204.1 460.5,203.6 461.3,203.3 462.1,203.2 463.0,203.2 464.0,203.3 465.0,203.6 466.0,203.8 466.9,204.0 467.8,204.1 468.6,204.1 469.4,203.9 470.1,203.5 470.7,202.9 471.3,202.2 471.9,201.4 472.4,200.5 472.9,199.7 473.5,199.0 474.1,198.3 474.8,197.8 475.5,197.5 476.3,197.4 477.1,197.4 478.0,197.6 479.0,197.7 480.0,197.9 481.0,197.9 482.0,197.8 482.8,197.6 483.5,197.2 484.0,196.8 484.5,196.3 485.0,195.7 485.5,194.9 486.1,194.2 486.7,193.4 487.3,192.7 488.0,192.0 488.7,191.6 489.5,191.3 490.3,191.2 491.2,191.3 492.0,191.5 492.9,191.9 493.8,192.3 494.7,192.6 495.6,192.9 496.5,193.1 497.3,193.1 498.1,192.9 498.9,192.6 499.6,192.1 500.2,191.4 500.9,190.6 501.4,189.8 502.0,189.1 502.6,188.4 503.3,187.8 503.9,187.4 504.7,187.2 505.5,187.1 506.4,187.1 507.3,187.3 508.2,187.5 509.2,187.7 510.1,187.9 511.0,187.9 511.9,187.9 512.6,187.6 513.4,187.2 514.0,186.6 514.6,185.9 515.1,185.1 515.5,184.3 516.0,183.4 516.5,182.7 517.0,182.0 517.6,181.4 518.3,181.0 519.0,180.8 519.9,180.6 520.8,180.6 521.7,180.6 522.7,180.6 523.7,180.5 524.6,180.3 525.4,180.0 526.1,179.4 526.7,178.7 527.1,177.8 527.2,176.8 527.1,175.8 526.9,174.8 526.5,174.0 526.2,173.1 525.9,172.4 525.7,171.6 525.6,170.8 525.8,170.0 526.1,169.2 526.6,168.4 527.1,167.6 527.7,166.9 528.4,166.2 528.9,165.5 529.3,164.7 529.6,163.9 529.6,163.0 529.5,162.2 529.2,161.3 528.7,160.5 528.1,159.7" stroke="#bd7d7a" stroke-width="0.9"/>
</g>
<rect x="-13.75" y="-4.2" width="27.5" height="8.4" fill="#b87474" stroke="#9e6262" stroke-width="0.9" transform="translate(607.6 142.3) rotate(7)"/>
<rect x="-4.5" y="-4.3" width="9" height="8.6" fill="#b87474" stroke="#9e6262" stroke-width="0.9" transform="translate(690.8 156.3) rotate(5)"/>
<rect x="-7.5" y="-4.4" width="15" height="8.8" fill="#b87474" stroke="#9e6262" stroke-width="0.9" transform="translate(746.6 170.6) rotate(9)"/>
<rect x="-7.4" y="-7.7" width="14.8" height="15.4" fill="#b87474" stroke="#9e6262" stroke-width="0.9" transform="translate(799.3 96.2) rotate(-3)"/>
<rect x="-4.3" y="-6.95" width="8.6" height="13.9" fill="#b87474" stroke="#9e6262" stroke-width="0.9" transform="translate(896.4 111.3) rotate(32)"/>
<rect x="-14.3" y="-5.15" width="28.6" height="10.3" fill="#b87474" stroke="#9e6262" stroke-width="0.9" transform="translate(900.9 178.9) rotate(-20)"/>
<rect x="-8.5" y="-15.5" width="17" height="31" fill="#b87474" stroke="#9e6262" stroke-width="0.9" transform="translate(859.4 209.9) rotate(1)"/>
<rect x="-9.35" y="-3.3" width="18.7" height="6.6" fill="#b87474" stroke="#9e6262" stroke-width="0.9" transform="translate(881.4 252.8) rotate(-21)"/>
<rect x="-10.1" y="-6.0" width="20.2" height="12" fill="#b87474" stroke="#9e6262" stroke-width="0.9" transform="translate(905.5 301.9) rotate(4)"/>
<rect x="-8.75" y="-3.25" width="17.5" height="6.5" fill="#b87474" stroke="#9e6262" stroke-width="0.9" transform="translate(874.4 355.2) rotate(42)"/>
<rect x="-7.4" y="-7.8" width="14.8" height="15.6" fill="#e5363c" stroke="#c42a2e" stroke-width="0.9" transform="translate(769.8 389.3) rotate(-8.5)"/>
<rect x="-20.25" y="-9.75" width="40.5" height="19.5" fill="#b87474" stroke="#9e6262" stroke-width="0.9" transform="translate(672.8 394) rotate(8)"/>
<rect x="-16.25" y="-8.65" width="32.5" height="17.3" fill="#b87474" stroke="#9e6262" stroke-width="0.9" transform="translate(647.4 328.4) rotate(-56.3)"/>
<rect x="-14.0" y="-8.0" width="28" height="16" fill="#b87474" stroke="#9e6262" stroke-width="0.9" transform="translate(658.7 259.6) rotate(52)"/>
<rect x="-7.4" y="-7.4" width="14.8" height="14.8" fill="#b87474" stroke="#9e6262" stroke-width="0.9" transform="translate(592 223.1) rotate(11)"/>
<rect x="-5.65" y="-5.85" width="11.3" height="11.7" fill="#b87474" stroke="#9e6262" stroke-width="0.9" transform="translate(526 309.3) rotate(10)"/>
<rect x="-7.7" y="-6.1" width="15.4" height="12.2" fill="#b87474" stroke="#9e6262" stroke-width="0.9" transform="translate(481.9 292.4) rotate(19)"/>
<rect x="-5.25" y="-8.75" width="10.5" height="17.5" fill="#b87474" stroke="#9e6262" stroke-width="0.9" transform="translate(438.6 236.1) rotate(-3)"/>
<rect x="-3.75" y="-4.4" width="7.5" height="8.8" fill="#b87474" stroke="#9e6262" stroke-width="0.9" transform="translate(484.9 193.9) rotate(-12)"/>
<rect x="-5.25" y="-8.3" width="10.5" height="16.6" fill="#b87474" stroke="#9e6262" stroke-width="0.9" transform="translate(527.4 167.9) rotate(-2)"/>
<g>
<path d="M435,98 C435,92 439.5,88.3 445,88.3 C450.5,88.3 455,92 455,98 L455,106 C455,108 454,109.5 454,111 C454,112.5 455,114 455,116 L455,157.5 C455,163 450.5,167.5 445,167.5 C439.5,167.5 435,163 435,157.5 L435,116 C435,114 436,112.5 436,111 C436,109.5 435,108 435,106 Z" fill="#d98e91" stroke="#c47d81" stroke-width="0.8"/>
<g fill="#c2636b" opacity="0.65">
<rect x="435.5" y="96.5" width="19" height="2.5"/>
<rect x="435.5" y="101.5" width="19" height="2"/>
<rect x="435.5" y="115.5" width="19" height="5"/>
<rect x="435.5" y="123" width="19" height="3"/>
<rect x="435.5" y="131" width="19" height="1.5"/>
<rect x="435.5" y="139.5" width="19" height="3"/>
<rect x="435.5" y="146" width="19" height="1.5"/>
<rect x="435.5" y="152" width="19" height="1.2"/>
</g>
<rect x="443" y="90" width="4" height="76" fill="#e8a8aa" opacity="0.35"/>
</g>
<text x="755.7" y="231.6" text-anchor="middle" font-size="14.4" fill="#333" textLength="141" lengthAdjust="spacingAndGlyphs">500,000 base pairs</text>
<text x="755.6" y="250.3" text-anchor="middle" font-size="14.4" fill="#333" textLength="64.5" lengthAdjust="spacingAndGlyphs">20 genes</text>
<text x="741.3" y="340" font-size="19.5" font-weight="bold" font-style="italic" fill="#111" textLength="57" lengthAdjust="spacingAndGlyphs">Foxp3</text>
<line x1="769.7" y1="349.5" x2="769.7" y2="375.5" stroke="#555" stroke-width="1.2"/>
<g font-size="27" font-weight="bold" fill="#1b1b1b" lengthAdjust="spacingAndGlyphs"><text lengthAdjust="spacingAndGlyphs" x="48.92" y="471" textLength="113.30">Brunkow</text><text lengthAdjust="spacingAndGlyphs" x="171.60" y="471" textLength="49.75">and</text><text lengthAdjust="spacingAndGlyphs" x="228.89" y="471" textLength="121.63">Ramsdell</text><text lengthAdjust="spacingAndGlyphs" x="357.80" y="471" textLength="51.35">find</text><text lengthAdjust="spacingAndGlyphs" x="416.70" y="471" textLength="41.02">the</text><text lengthAdjust="spacingAndGlyphs" x="467.50" y="471" textLength="83.02">scurfy</text><text lengthAdjust="spacingAndGlyphs" x="558.22" y="471" textLength="123.40">mutation</text></g>
<g font-size="15.2" fill="#2b2b2b"><text lengthAdjust="spacingAndGlyphs" x="51.30" y="495.8" textLength="24.42">The</text><text lengthAdjust="spacingAndGlyphs" x="81.60" y="495.8" textLength="42.57">scurfy</text><text lengthAdjust="spacingAndGlyphs" x="128.89" y="495.8" textLength="64.81">mutation</text><text lengthAdjust="spacingAndGlyphs" x="199.10" y="495.8" textLength="48.19">causes</text><text lengthAdjust="spacingAndGlyphs" x="252.56" y="495.8" textLength="7.86">a</text><text lengthAdjust="spacingAndGlyphs" x="264.72" y="495.8" textLength="48.44">mutiny</text><text lengthAdjust="spacingAndGlyphs" x="319.02" y="495.8" textLength="11.62">in</text><text lengthAdjust="spacingAndGlyphs" x="336.80" y="495.8" textLength="21.96">the</text><text lengthAdjust="spacingAndGlyphs" x="363.64" y="495.8" textLength="57.13">immune</text><text lengthAdjust="spacingAndGlyphs" x="426.20" y="495.8" textLength="53.24">system.</text><text lengthAdjust="spacingAndGlyphs" x="483.59" y="495.8" textLength="59.78">Brunkow</text><text lengthAdjust="spacingAndGlyphs" x="549.30" y="495.8" textLength="25.35">and</text><text lengthAdjust="spacingAndGlyphs" x="579.51" y="495.8" textLength="62.76">Ramsdell</text><text lengthAdjust="spacingAndGlyphs" x="648.20" y="495.8" textLength="78.38">succeeded</text><text lengthAdjust="spacingAndGlyphs" x="731.47" y="495.8" textLength="12.19">in</text><text lengthAdjust="spacingAndGlyphs" x="748.06" y="495.8" textLength="69.61">narrowing</text><text lengthAdjust="spacingAndGlyphs" x="823.10" y="495.8" textLength="38.57">down</text><text lengthAdjust="spacingAndGlyphs" x="867.50" y="495.8" textLength="21.45">the</text><text lengthAdjust="spacingAndGlyphs" x="894.80" y="495.8" textLength="28.78">area</text><text lengthAdjust="spacingAndGlyphs" x="929.40" y="495.8" textLength="11.96">of</text><text lengthAdjust="spacingAndGlyphs" x="948.50" y="495.8" textLength="22.48">the</text><text lengthAdjust="spacingAndGlyphs" x="50.20" y="514.8" textLength="64.09">mutation</text><text lengthAdjust="spacingAndGlyphs" x="119.70" y="514.8" textLength="25.14">and</text><text lengthAdjust="spacingAndGlyphs" x="149.64" y="514.8" textLength="55.74">locating</text><text lengthAdjust="spacingAndGlyphs" x="210.74" y="514.8" textLength="8.03">it</text><text lengthAdjust="spacingAndGlyphs" x="224.36" y="514.8" textLength="12.31">in</text><text lengthAdjust="spacingAndGlyphs" x="242.80" y="514.8" textLength="21.45">the</text><text lengthAdjust="spacingAndGlyphs" x="269.70" y="514.8" textLength="41.85" font-style="italic">Foxp3</text><text lengthAdjust="spacingAndGlyphs" x="317.00" y="514.8" textLength="35.64">gene,</text><text lengthAdjust="spacingAndGlyphs" x="359.82" y="514.8" textLength="39.44">which</text><text lengthAdjust="spacingAndGlyphs" x="404.20" y="514.8" textLength="47.69">turned</text><text lengthAdjust="spacingAndGlyphs" x="457.20" y="514.8" textLength="21.70">out</text><text lengthAdjust="spacingAndGlyphs" x="484.81" y="514.8" textLength="14.19">to</text><text lengthAdjust="spacingAndGlyphs" x="505.10" y="514.8" textLength="16.54">be</text><text lengthAdjust="spacingAndGlyphs" x="528.30" y="514.8" textLength="56.66">decisive</text><text lengthAdjust="spacingAndGlyphs" x="589.81" y="514.8" textLength="11.74">in</text><text lengthAdjust="spacingAndGlyphs" x="607.90" y="514.8" textLength="21.76">the</text><text lengthAdjust="spacingAndGlyphs" x="635.00" y="514.8" textLength="92.27">development</text><text lengthAdjust="spacingAndGlyphs" x="733.90" y="514.8" textLength="11.96">of</text><text lengthAdjust="spacingAndGlyphs" x="751.96" y="514.8" textLength="70.22">regulatory</text><text lengthAdjust="spacingAndGlyphs" x="828.16" y="514.8" textLength="8.63">T</text><text lengthAdjust="spacingAndGlyphs" x="841.60" y="514.8" textLength="34.93">cells.</text></g>
</svg>
</body></html>
